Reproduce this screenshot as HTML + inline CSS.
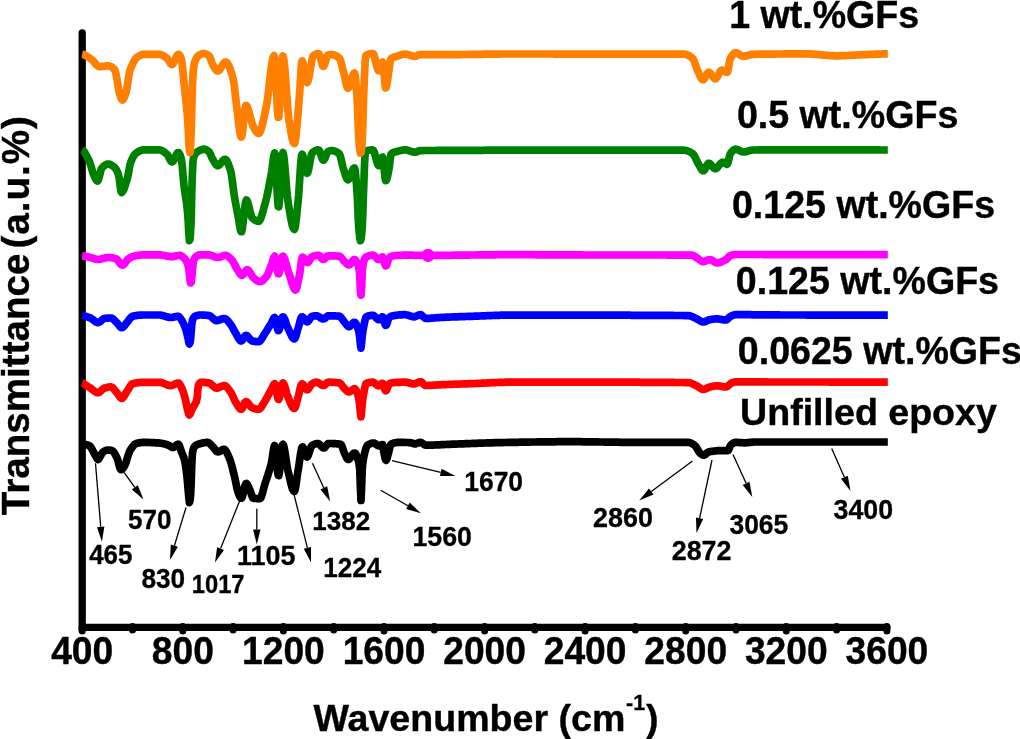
<!DOCTYPE html>
<html lang="en"><head><meta charset="utf-8"><title>FTIR spectra</title>
<style>html,body{margin:0;padding:0;background:#fff;}body{width:1020px;height:739px;overflow:hidden;font-family:'Liberation Sans', sans-serif;}svg text{fill:#000;}</style>
</head><body>
<svg width="1020" height="739" viewBox="0 0 1020 739" style="display:block">
<rect width="1020" height="739" fill="#fff"/>
<path d="M82.2,33 L82.2,627.3 L886.9,627.3" fill="none" stroke="#000" stroke-width="7.3" stroke-linecap="round" stroke-linejoin="miter"/>
<line x1="82.2" y1="626.6" x2="82.2" y2="631.0" stroke="#000" stroke-width="7" stroke-linecap="round"/>
<line x1="132.5" y1="626.6" x2="132.5" y2="630.0" stroke="#000" stroke-width="7" stroke-linecap="round"/>
<line x1="182.8" y1="626.6" x2="182.8" y2="631.0" stroke="#000" stroke-width="7" stroke-linecap="round"/>
<line x1="233.1" y1="626.6" x2="233.1" y2="630.0" stroke="#000" stroke-width="7" stroke-linecap="round"/>
<line x1="283.4" y1="626.6" x2="283.4" y2="631.0" stroke="#000" stroke-width="7" stroke-linecap="round"/>
<line x1="333.7" y1="626.6" x2="333.7" y2="630.0" stroke="#000" stroke-width="7" stroke-linecap="round"/>
<line x1="384.0" y1="626.6" x2="384.0" y2="631.0" stroke="#000" stroke-width="7" stroke-linecap="round"/>
<line x1="434.3" y1="626.6" x2="434.3" y2="630.0" stroke="#000" stroke-width="7" stroke-linecap="round"/>
<line x1="484.6" y1="626.6" x2="484.6" y2="631.0" stroke="#000" stroke-width="7" stroke-linecap="round"/>
<line x1="534.8" y1="626.6" x2="534.8" y2="630.0" stroke="#000" stroke-width="7" stroke-linecap="round"/>
<line x1="585.1" y1="626.6" x2="585.1" y2="631.0" stroke="#000" stroke-width="7" stroke-linecap="round"/>
<line x1="635.4" y1="626.6" x2="635.4" y2="630.0" stroke="#000" stroke-width="7" stroke-linecap="round"/>
<line x1="685.7" y1="626.6" x2="685.7" y2="631.0" stroke="#000" stroke-width="7" stroke-linecap="round"/>
<line x1="736.0" y1="626.6" x2="736.0" y2="630.0" stroke="#000" stroke-width="7" stroke-linecap="round"/>
<line x1="786.3" y1="626.6" x2="786.3" y2="631.0" stroke="#000" stroke-width="7" stroke-linecap="round"/>
<line x1="836.6" y1="626.6" x2="836.6" y2="630.0" stroke="#000" stroke-width="7" stroke-linecap="round"/>
<line x1="886.9" y1="626.6" x2="886.9" y2="631.0" stroke="#000" stroke-width="7" stroke-linecap="round"/>
<path d="M82.1,149.8 L83.2,150.4 L83.8,151.1 L84.4,152.0 L85.0,152.9 L85.6,153.9 L86.2,155.0 L86.8,156.1 L87.4,157.3 L88.0,158.5 L88.6,159.7 L89.2,161.0 L89.8,162.6 L90.4,164.4 L91.0,166.4 L91.6,168.4 L92.2,170.5 L92.8,172.4 L93.4,174.1 L94.0,175.6 L94.6,176.8 L95.2,178.1 L95.8,179.2 L96.4,180.2 L97.0,180.8 L97.6,181.0 L98.2,180.2 L98.8,178.6 L99.4,176.3 L100.0,173.8 L100.6,171.4 L101.2,169.4 L101.8,168.1 L102.4,167.5 L103.0,166.9 L103.6,166.3 L104.2,165.8 L104.8,165.4 L105.4,165.0 L106.0,164.6 L106.6,164.4 L107.2,164.2 L107.8,164.0 L108.4,164.0 L109.0,164.1 L109.6,164.2 L110.2,164.4 L110.8,164.7 L111.4,165.1 L112.0,165.4 L112.6,165.9 L113.2,166.3 L113.8,166.7 L114.4,167.3 L115.0,167.9 L115.6,168.6 L116.2,169.5 L116.8,170.5 L117.4,171.8 L118.0,173.3 L118.6,175.3 L119.2,178.2 L119.8,183.2 L120.4,187.6 L121.0,191.4 L121.6,192.5 L122.2,192.0 L122.8,191.2 L123.4,190.2 L124.0,189.0 L124.6,187.4 L125.2,185.6 L125.8,183.6 L126.4,181.7 L127.0,179.6 L127.6,177.3 L128.2,174.7 L128.8,171.5 L129.4,168.0 L130.0,164.9 L130.6,162.7 L131.2,161.2 L131.8,159.7 L132.4,158.4 L133.0,157.2 L133.6,156.2 L134.2,155.2 L134.8,154.4 L135.4,153.8 L136.0,153.2 L136.6,152.8 L137.2,152.4 L137.8,152.0 L138.4,151.7 L139.0,151.3 L139.6,151.0 L140.2,150.8 L140.8,150.5 L141.4,150.3 L142.0,150.1 L142.6,150.0 L143.2,149.9 L143.8,149.9 L144.4,149.9 L145.0,149.9 L145.6,149.9 L146.2,149.9 L146.8,149.9 L147.4,149.9 L148.0,149.9 L148.6,149.9 L149.2,149.9 L149.8,149.9 L150.4,149.9 L151.0,149.9 L151.6,149.9 L152.2,149.9 L152.8,149.9 L153.4,149.9 L154.0,149.9 L154.6,149.9 L155.2,149.9 L155.8,149.9 L156.4,149.9 L157.0,149.9 L157.6,149.9 L158.2,149.9 L158.8,149.9 L159.4,149.9 L160.0,150.0 L160.6,150.1 L161.2,150.3 L161.8,150.6 L162.4,150.9 L163.0,151.2 L163.6,151.6 L164.2,152.0 L164.8,152.5 L165.4,153.0 L166.0,153.4 L166.6,153.9 L167.2,154.5 L167.8,155.3 L168.4,156.4 L169.0,157.7 L169.6,158.9 L170.2,160.0 L170.8,161.0 L171.4,161.7 L172.0,161.9 L172.6,161.7 L173.2,161.0 L173.8,160.0 L174.4,158.8 L175.0,157.5 L175.6,156.1 L176.2,154.9 L176.8,153.8 L177.4,152.9 L178.0,152.5 L178.6,152.5 L179.2,153.1 L179.8,154.3 L180.4,155.9 L181.0,157.9 L181.6,160.4 L182.2,165.5 L182.8,172.4 L183.4,179.6 L184.0,185.4 L184.6,190.1 L185.2,194.2 L185.8,198.1 L186.4,202.3 L187.0,207.1 L187.6,212.8 L188.2,221.0 L188.8,233.1 L189.4,240.6 L190.0,239.2 L190.6,231.9 L191.2,219.0 L191.8,192.0 L192.4,172.6 L193.0,161.0 L193.6,157.7 L194.2,155.9 L194.8,154.6 L195.4,153.7 L196.0,153.0 L196.6,152.4 L197.2,151.9 L197.8,151.5 L198.4,151.1 L199.0,150.8 L199.6,150.6 L200.2,150.3 L200.8,150.0 L201.4,149.7 L202.0,149.5 L202.6,149.3 L203.2,149.1 L203.8,149.1 L204.4,149.1 L205.0,149.3 L205.6,149.5 L206.2,149.8 L206.8,150.1 L207.4,150.5 L208.0,151.0 L208.6,151.5 L209.2,152.0 L209.8,153.0 L210.4,154.2 L211.0,155.6 L211.6,157.1 L212.2,158.4 L212.8,159.5 L213.4,160.4 L214.0,161.5 L214.6,162.5 L215.2,163.4 L215.8,164.3 L216.4,165.0 L217.0,165.4 L217.6,165.7 L218.2,165.6 L218.8,165.4 L219.4,164.9 L220.0,164.3 L220.6,163.5 L221.2,162.8 L221.8,162.0 L222.4,161.2 L223.0,160.5 L223.6,159.9 L224.2,159.5 L224.8,159.3 L225.4,159.4 L226.0,159.8 L226.6,160.5 L227.2,161.5 L227.8,162.8 L228.4,164.2 L229.0,165.9 L229.6,167.6 L230.2,169.5 L230.8,171.5 L231.4,174.5 L232.0,178.5 L232.6,183.0 L233.2,187.8 L233.8,192.3 L234.4,196.3 L235.0,199.8 L235.6,203.1 L236.2,206.4 L236.8,209.5 L237.4,212.6 L238.0,215.7 L238.6,219.0 L239.2,222.8 L239.8,226.6 L240.4,229.8 L241.0,231.7 L241.6,231.7 L242.2,229.4 L242.8,225.3 L243.4,220.2 L244.0,214.6 L244.6,209.1 L245.2,204.5 L245.8,201.2 L246.4,200.0 L247.0,200.5 L247.6,201.8 L248.2,203.7 L248.8,206.0 L249.4,208.6 L250.0,211.2 L250.6,213.6 L251.2,215.7 L251.8,217.3 L252.4,218.1 L253.0,218.6 L253.6,219.1 L254.2,219.6 L254.8,220.0 L255.4,220.3 L256.0,220.6 L256.6,220.9 L257.2,221.1 L257.8,221.2 L258.4,221.3 L259.0,221.2 L259.6,220.6 L260.2,219.6 L260.8,218.3 L261.4,216.6 L262.0,214.8 L262.6,212.7 L263.2,210.6 L263.8,208.3 L264.4,206.1 L265.0,204.0 L265.6,201.8 L266.2,199.4 L266.8,196.9 L267.4,194.1 L268.0,191.2 L268.6,188.2 L269.2,185.1 L269.8,182.0 L270.4,178.7 L271.0,175.5 L271.6,172.1 L272.2,167.8 L272.8,162.9 L273.4,158.3 L274.0,154.7 L274.6,153.0 L275.2,155.6 L275.8,164.1 L276.4,176.0 L277.0,188.9 L277.6,199.9 L278.2,206.7 L278.8,206.9 L279.4,201.4 L280.0,192.2 L280.6,181.0 L281.2,169.7 L281.8,160.0 L282.4,153.7 L283.0,152.6 L283.6,154.9 L284.2,159.5 L284.8,165.7 L285.4,172.9 L286.0,180.6 L286.6,188.1 L287.2,194.8 L287.8,200.1 L288.4,203.9 L289.0,207.6 L289.6,211.3 L290.2,215.0 L290.8,218.4 L291.4,221.5 L292.0,224.2 L292.6,226.4 L293.2,228.1 L293.8,229.1 L294.4,229.4 L295.0,227.9 L295.6,224.5 L296.2,219.7 L296.8,214.1 L297.4,208.2 L298.0,202.3 L298.6,195.8 L299.2,187.1 L299.8,177.4 L300.4,168.0 L301.0,160.2 L301.6,155.3 L302.2,154.3 L302.8,155.5 L303.4,157.7 L304.0,160.7 L304.6,164.0 L305.2,167.3 L305.8,170.2 L306.4,172.3 L307.0,173.3 L307.6,172.8 L308.2,171.0 L308.8,168.4 L309.4,165.2 L310.0,161.7 L310.6,158.4 L311.2,155.6 L311.8,153.7 L312.4,152.8 L313.0,152.3 L313.6,151.8 L314.2,151.4 L314.8,151.0 L315.4,150.7 L316.0,150.4 L316.6,150.2 L317.2,150.0 L317.8,149.9 L318.4,149.9 L319.0,150.2 L319.6,151.2 L320.2,152.8 L320.8,154.6 L321.4,156.5 L322.0,158.2 L322.6,159.6 L323.2,160.2 L323.8,160.1 L324.4,159.3 L325.0,158.0 L325.6,156.5 L326.2,154.9 L326.8,153.4 L327.4,152.2 L328.0,151.6 L328.6,151.3 L329.2,151.1 L329.8,150.9 L330.4,150.7 L331.0,150.6 L331.6,150.6 L332.2,150.6 L332.8,150.7 L333.4,150.8 L334.0,150.9 L334.6,151.1 L335.2,151.3 L335.8,151.6 L336.4,151.9 L337.0,152.2 L337.6,152.6 L338.2,153.0 L338.8,153.5 L339.4,154.0 L340.0,155.3 L340.6,157.2 L341.2,159.6 L341.8,162.3 L342.4,164.9 L343.0,167.3 L343.6,169.3 L344.2,171.2 L344.8,173.1 L345.4,175.1 L346.0,176.8 L346.6,178.3 L347.2,179.3 L347.8,179.8 L348.4,179.6 L349.0,178.9 L349.6,177.8 L350.2,176.4 L350.8,174.8 L351.4,173.2 L352.0,171.6 L352.6,170.1 L353.2,169.0 L353.8,168.2 L354.4,167.9 L355.0,169.7 L355.6,174.5 L356.2,181.2 L356.8,188.7 L357.4,198.8 L358.0,213.0 L358.6,225.3 L359.2,232.3 L359.8,237.9 L360.4,240.7 L361.0,239.4 L361.6,234.7 L362.2,228.0 L362.8,214.2 L363.4,195.3 L364.0,179.4 L364.6,163.0 L365.2,152.5 L365.8,151.4 L366.4,151.1 L367.0,150.8 L367.6,150.6 L368.2,150.4 L368.8,150.3 L369.4,150.2 L370.0,150.1 L370.6,150.0 L371.2,150.0 L371.8,149.9 L372.4,149.9 L373.0,150.0 L373.6,150.7 L374.2,152.1 L374.8,154.0 L375.4,156.2 L376.0,158.6 L376.6,160.9 L377.2,162.9 L377.8,164.5 L378.4,165.5 L379.0,165.6 L379.6,164.7 L380.2,162.9 L380.8,160.8 L381.4,158.8 L382.0,157.4 L382.6,157.1 L383.2,159.8 L383.8,165.2 L384.4,171.6 L385.0,177.4 L385.6,180.6 L386.2,180.6 L386.8,179.2 L387.4,176.9 L388.0,174.1 L388.6,171.0 L389.2,167.8 L389.8,163.0 L390.4,157.7 L391.0,154.2 L391.6,153.5 L392.2,153.1 L392.8,152.7 L393.4,152.5 L394.0,152.3 L394.6,152.1 L395.2,151.9 L395.8,151.8 L396.4,151.7 L397.0,151.5 L397.6,151.3 L398.2,151.2 L398.8,151.0 L399.4,150.8 L400.0,150.7 L400.6,150.5 L401.2,150.4 L401.8,150.3 L402.4,150.2 L403.0,150.1 L403.6,150.0 L404.2,149.9 L404.8,149.9 L405.4,149.9 L406.0,149.9 L406.6,150.0 L407.2,150.1 L407.8,150.3 L408.4,150.5 L409.0,150.7 L409.6,150.9 L410.2,151.1 L410.8,151.3 L411.4,151.5 L412.0,151.7 L412.6,151.9 L413.2,152.0 L413.8,152.1 L414.4,152.2 L415.0,152.2 L415.6,152.1 L416.2,152.0 L416.8,151.8 L417.4,151.5 L418.0,151.3 L418.6,151.0 L419.2,150.8 L419.8,150.7 L420.4,150.6 L421.0,150.6 L421.6,150.6 L422.2,150.6 L422.8,150.6 L423.4,150.6 L424.0,150.5 L424.6,150.5 L425.2,150.5 L425.8,150.5 L426.4,150.5 L427.0,150.5 L427.6,150.5 L428.2,150.5 L428.8,150.5 L429.4,150.5 L430.0,150.5 L430.6,150.5 L431.2,150.5 L431.8,150.5 L432.4,150.5 L433.0,150.5 L433.6,150.5 L434.2,150.5 L434.8,150.5 L435.4,150.5 L436.0,150.5 L436.6,150.4 L437.2,150.4 L437.8,150.4 L438.4,150.4 L439.0,150.4 L439.6,150.4 L440.2,150.4 L440.8,150.4 L441.4,150.4 L442.0,150.4 L442.6,150.4 L443.2,150.4 L443.8,150.4 L444.4,150.4 L445.0,150.4 L445.6,150.4 L446.2,150.4 L446.8,150.4 L447.4,150.4 L448.0,150.4 L448.6,150.4 L449.2,150.4 L449.8,150.4 L450.4,150.4 L451.0,150.4 L451.6,150.4 L452.2,150.4 L452.8,150.4 L453.4,150.4 L454.0,150.4 L454.6,150.4 L455.2,150.4 L455.8,150.4 L456.4,150.4 L457.0,150.4 L457.6,150.4 L458.2,150.4 L458.8,150.4 L459.4,150.4 L460.0,150.4 L460.6,150.4 L461.2,150.3 L461.8,150.3 L462.4,150.3 L463.0,150.3 L463.6,150.3 L464.2,150.3 L464.8,150.3 L465.4,150.3 L466.0,150.3 L466.6,150.3 L467.2,150.3 L467.8,150.3 L468.4,150.3 L469.0,150.3 L469.6,150.3 L470.2,150.3 L470.8,150.3 L471.4,150.3 L472.0,150.3 L472.6,150.3 L473.2,150.3 L473.8,150.3 L474.4,150.3 L475.0,150.3 L475.6,150.3 L476.2,150.3 L476.8,150.3 L477.4,150.3 L478.0,150.3 L478.6,150.3 L479.2,150.3 L479.8,150.3 L480.4,150.3 L481.0,150.3 L481.6,150.3 L482.2,150.3 L482.8,150.3 L483.4,150.3 L484.0,150.3 L484.6,150.2 L485.2,150.2 L485.8,150.2 L486.4,150.2 L487.0,150.2 L487.6,150.2 L488.2,150.2 L488.8,150.2 L489.4,150.2 L490.0,150.2 L490.6,150.2 L491.2,150.2 L491.8,150.2 L492.4,150.2 L493.0,150.2 L493.6,150.2 L494.2,150.2 L494.8,150.2 L495.4,150.2 L496.0,150.2 L496.6,150.2 L497.2,150.2 L497.8,150.2 L498.4,150.2 L499.0,150.2 L499.6,150.2 L500.2,150.2 L500.8,150.2 L501.4,150.2 L502.0,150.2 L502.6,150.2 L503.2,150.2 L503.8,150.2 L504.4,150.2 L505.0,150.2 L505.6,150.2 L506.2,150.2 L506.8,150.2 L507.4,150.2 L508.0,150.2 L508.6,150.2 L509.2,150.2 L509.8,150.2 L510.4,150.2 L511.0,150.2 L511.6,150.2 L512.2,150.2 L512.8,150.2 L513.4,150.2 L514.0,150.2 L514.6,150.2 L515.2,150.2 L515.8,150.2 L516.4,150.2 L517.0,150.2 L517.6,150.2 L518.2,150.2 L518.8,150.2 L519.4,150.2 L520.0,150.2 L520.6,150.2 L521.2,150.2 L521.8,150.2 L522.4,150.2 L523.0,150.2 L523.6,150.2 L524.2,150.2 L524.8,150.2 L525.4,150.2 L526.0,150.2 L526.6,150.2 L527.2,150.2 L527.8,150.2 L528.4,150.2 L529.0,150.2 L529.6,150.2 L530.2,150.2 L530.8,150.2 L531.4,150.2 L532.0,150.2 L532.6,150.2 L533.2,150.2 L533.8,150.2 L534.4,150.2 L535.0,150.2 L535.6,150.2 L536.2,150.2 L536.8,150.2 L537.4,150.2 L538.0,150.2 L538.6,150.2 L539.2,150.2 L539.8,150.2 L540.4,150.2 L541.0,150.2 L541.6,150.2 L542.2,150.2 L542.8,150.2 L543.4,150.2 L544.0,150.2 L544.6,150.2 L545.2,150.2 L545.8,150.2 L546.4,150.2 L547.0,150.2 L547.6,150.2 L548.2,150.2 L548.8,150.2 L549.4,150.2 L550.0,150.2 L550.6,150.2 L551.2,150.2 L551.8,150.2 L552.4,150.2 L553.0,150.2 L553.6,150.2 L554.2,150.2 L554.8,150.2 L555.4,150.2 L556.0,150.2 L556.6,150.2 L557.2,150.2 L557.8,150.2 L558.4,150.2 L559.0,150.2 L559.6,150.2 L560.2,150.2 L560.8,150.2 L561.4,150.2 L562.0,150.2 L562.6,150.2 L563.2,150.2 L563.8,150.2 L564.4,150.2 L565.0,150.2 L565.6,150.2 L566.2,150.2 L566.8,150.2 L567.4,150.2 L568.0,150.2 L568.6,150.2 L569.2,150.2 L569.8,150.2 L570.4,150.2 L571.0,150.2 L571.6,150.2 L572.2,150.2 L572.8,150.2 L573.4,150.2 L574.0,150.2 L574.6,150.2 L575.2,150.2 L575.8,150.2 L576.4,150.2 L577.0,150.2 L577.6,150.2 L578.2,150.2 L578.8,150.2 L579.4,150.2 L580.0,150.2 L580.6,150.2 L581.2,150.2 L581.8,150.2 L582.4,150.2 L583.0,150.2 L583.6,150.2 L584.2,150.2 L584.8,150.2 L585.4,150.2 L586.0,150.2 L586.6,150.2 L587.2,150.2 L587.8,150.2 L588.4,150.2 L589.0,150.2 L589.6,150.2 L590.2,150.2 L590.8,150.2 L591.4,150.2 L592.0,150.2 L592.6,150.2 L593.2,150.2 L593.8,150.2 L594.4,150.2 L595.0,150.2 L595.6,150.2 L596.2,150.2 L596.8,150.2 L597.4,150.2 L598.0,150.2 L598.6,150.2 L599.2,150.2 L599.8,150.2 L600.4,150.2 L601.0,150.2 L601.6,150.2 L602.2,150.2 L602.8,150.2 L603.4,150.2 L604.0,150.2 L604.6,150.2 L605.2,150.2 L605.8,150.2 L606.4,150.2 L607.0,150.2 L607.6,150.2 L608.2,150.2 L608.8,150.2 L609.4,150.2 L610.0,150.2 L610.6,150.2 L611.2,150.2 L611.8,150.2 L612.4,150.2 L613.0,150.2 L613.6,150.2 L614.2,150.2 L614.8,150.2 L615.4,150.2 L616.0,150.2 L616.6,150.2 L617.2,150.2 L617.8,150.2 L618.4,150.2 L619.0,150.2 L619.6,150.2 L620.2,150.2 L620.8,150.2 L621.4,150.2 L622.0,150.2 L622.6,150.2 L623.2,150.2 L623.8,150.2 L624.4,150.2 L625.0,150.2 L625.6,150.2 L626.2,150.2 L626.8,150.2 L627.4,150.2 L628.0,150.2 L628.6,150.2 L629.2,150.2 L629.8,150.2 L630.4,150.2 L631.0,150.2 L631.6,150.2 L632.2,150.2 L632.8,150.2 L633.4,150.2 L634.0,150.2 L634.6,150.2 L635.2,150.2 L635.8,150.2 L636.4,150.2 L637.0,150.2 L637.6,150.2 L638.2,150.2 L638.8,150.2 L639.4,150.2 L640.0,150.2 L640.6,150.2 L641.2,150.2 L641.8,150.2 L642.4,150.2 L643.0,150.2 L643.6,150.2 L644.2,150.2 L644.8,150.2 L645.4,150.2 L646.0,150.2 L646.6,150.2 L647.2,150.2 L647.8,150.2 L648.4,150.2 L649.0,150.2 L649.6,150.2 L650.2,150.2 L650.8,150.2 L651.4,150.2 L652.0,150.2 L652.6,150.2 L653.2,150.2 L653.8,150.2 L654.4,150.2 L655.0,150.2 L655.6,150.2 L656.2,150.2 L656.8,150.2 L657.4,150.2 L658.0,150.2 L658.6,150.2 L659.2,150.2 L659.8,150.2 L660.4,150.2 L661.0,150.2 L661.6,150.2 L662.2,150.2 L662.8,150.2 L663.4,150.2 L664.0,150.2 L664.6,150.2 L665.2,150.2 L665.8,150.2 L666.4,150.2 L667.0,150.2 L667.6,150.2 L668.2,150.2 L668.8,150.2 L669.4,150.2 L670.0,150.2 L670.6,150.2 L671.2,150.2 L671.8,150.2 L672.4,150.2 L673.0,150.2 L673.6,150.2 L674.2,150.2 L674.8,150.2 L675.4,150.2 L676.0,150.2 L676.6,150.2 L677.2,150.2 L677.8,150.2 L678.4,150.2 L679.0,150.2 L679.6,150.2 L680.2,150.2 L680.8,150.2 L681.4,150.2 L682.0,150.2 L682.6,150.2 L683.2,150.2 L683.8,150.2 L684.4,150.2 L685.0,150.3 L685.6,150.4 L686.2,150.5 L686.8,150.7 L687.4,150.9 L688.0,151.1 L688.6,151.3 L689.2,151.6 L689.8,151.9 L690.4,152.2 L691.0,152.6 L691.6,152.9 L692.2,153.3 L692.8,153.7 L693.4,154.4 L694.0,155.3 L694.6,156.3 L695.2,157.5 L695.8,158.7 L696.4,160.0 L697.0,161.3 L697.6,162.5 L698.2,163.6 L698.8,164.6 L699.4,165.7 L700.0,166.8 L700.6,167.8 L701.2,168.9 L701.8,169.7 L702.4,170.4 L703.0,170.8 L703.6,170.7 L704.2,170.3 L704.8,169.4 L705.4,168.4 L706.0,167.2 L706.6,165.9 L707.2,164.8 L707.8,164.0 L708.4,163.4 L709.0,163.3 L709.6,163.5 L710.2,163.9 L710.8,164.5 L711.4,165.2 L712.0,165.9 L712.6,166.7 L713.2,167.4 L713.8,168.0 L714.4,168.4 L715.0,168.7 L715.6,168.7 L716.2,168.4 L716.8,168.0 L717.4,167.5 L718.0,166.8 L718.6,166.0 L719.2,165.3 L719.8,164.5 L720.4,163.8 L721.0,163.1 L721.6,162.6 L722.2,162.3 L722.8,162.2 L723.4,162.3 L724.0,162.6 L724.6,163.0 L725.2,163.4 L725.8,163.8 L726.4,164.1 L727.0,164.3 L727.6,163.9 L728.2,162.1 L728.8,159.4 L729.4,156.6 L730.0,154.4 L730.6,153.2 L731.2,152.5 L731.8,151.7 L732.4,151.1 L733.0,150.5 L733.6,150.0 L734.2,149.7 L734.8,149.4 L735.4,149.2 L736.0,149.2 L736.6,149.3 L737.2,149.5 L737.8,149.7 L738.4,150.0 L739.0,150.3 L739.6,150.6 L740.2,150.9 L740.8,151.2 L741.4,151.5 L742.0,151.7 L742.6,151.9 L743.2,152.0 L743.8,152.0 L744.4,151.9 L745.0,151.9 L745.6,151.7 L746.2,151.6 L746.8,151.5 L747.4,151.3 L748.0,151.1 L748.6,150.9 L749.2,150.7 L749.8,150.6 L750.4,150.4 L751.0,150.3 L751.6,150.2 L752.2,150.1 L752.8,150.0 L753.4,150.0 L754.0,150.0 L754.6,150.0 L755.2,150.0 L755.8,150.0 L756.4,150.0 L757.0,150.0 L757.6,149.9 L758.2,149.9 L758.8,149.9 L759.4,149.9 L760.0,149.9 L760.6,149.9 L761.2,149.9 L761.8,149.9 L762.4,149.9 L763.0,149.9 L763.6,149.9 L764.2,149.9 L764.8,149.9 L765.4,149.9 L766.0,149.9 L766.6,149.9 L767.2,149.9 L767.8,149.9 L768.4,149.9 L769.0,149.9 L769.6,149.9 L770.2,149.8 L770.8,149.8 L771.4,149.8 L772.0,149.8 L772.6,149.8 L773.2,149.8 L773.8,149.8 L774.4,149.8 L775.0,149.8 L775.6,149.8 L776.2,149.8 L776.8,149.8 L777.4,149.8 L778.0,149.8 L778.6,149.8 L779.2,149.8 L779.8,149.8 L780.4,149.8 L781.0,149.8 L781.6,149.8 L782.2,149.8 L782.8,149.8 L783.4,149.8 L784.0,149.8 L784.6,149.8 L785.2,149.8 L785.8,149.8 L786.4,149.8 L787.0,149.8 L787.6,149.8 L788.2,149.8 L788.8,149.8 L789.4,149.8 L790.0,149.8 L790.6,149.8 L791.2,149.8 L791.8,149.8 L792.4,149.8 L793.0,149.8 L793.6,149.8 L794.2,149.8 L794.8,149.8 L795.4,149.8 L796.0,149.8 L796.6,149.8 L797.2,149.8 L797.8,149.8 L798.4,149.8 L799.0,149.8 L799.6,149.8 L800.2,149.8 L800.8,149.8 L801.4,149.8 L802.0,149.8 L802.6,149.8 L803.2,149.8 L803.8,149.8 L804.4,149.8 L805.0,149.8 L805.6,149.8 L806.2,149.8 L806.8,149.8 L807.4,149.8 L808.0,149.8 L808.6,149.8 L809.2,149.8 L809.8,149.8 L810.4,149.8 L811.0,149.8 L811.6,149.8 L812.2,149.8 L812.8,149.8 L813.4,149.8 L814.0,149.8 L814.6,149.8 L815.2,149.8 L815.8,149.8 L816.4,149.8 L817.0,149.8 L817.6,149.8 L818.2,149.8 L818.8,149.8 L819.4,149.8 L820.0,149.8 L820.6,149.8 L821.2,149.8 L821.8,149.8 L822.4,149.8 L823.0,149.8 L823.6,149.8 L824.2,149.8 L824.8,149.8 L825.4,149.8 L826.0,149.8 L826.6,149.8 L827.2,149.8 L827.8,149.8 L828.4,149.8 L829.0,149.8 L829.6,149.8 L830.2,149.8 L830.8,149.8 L831.4,149.8 L832.0,149.8 L832.6,149.8 L833.2,149.8 L833.8,149.8 L834.4,149.8 L835.0,149.8 L835.6,149.8 L836.2,149.8 L836.8,149.8 L837.4,149.8 L838.0,149.8 L838.6,149.8 L839.2,149.8 L839.8,149.8 L840.4,149.8 L841.0,149.8 L841.6,149.8 L842.2,149.8 L842.8,149.8 L843.4,149.8 L844.0,149.8 L844.6,149.8 L845.2,149.8 L845.8,149.8 L846.4,149.8 L847.0,149.8 L847.6,149.8 L848.2,149.8 L848.8,149.8 L849.4,149.8 L850.0,149.8 L850.6,149.8 L851.2,149.8 L851.8,149.9 L852.4,149.9 L853.0,149.9 L853.6,149.9 L854.2,149.9 L854.8,149.9 L855.4,149.9 L856.0,149.9 L856.6,149.9 L857.2,149.9 L857.8,149.9 L858.4,149.9 L859.0,149.9 L859.6,149.9 L860.2,149.9 L860.8,149.9 L861.4,149.9 L862.0,149.9 L862.6,149.9 L863.2,149.9 L863.8,149.9 L864.4,149.9 L865.0,149.9 L865.6,149.9 L866.2,149.9 L866.8,149.9 L867.4,149.9 L868.0,149.9 L868.6,149.9 L869.2,149.9 L869.8,149.9 L870.4,149.9 L871.0,149.9 L871.6,149.9 L872.2,149.9 L872.8,149.9 L873.4,149.9 L874.0,149.9 L874.6,149.9 L875.2,149.9 L875.8,149.9 L876.4,149.9 L877.0,149.9 L877.6,149.9 L878.2,149.9 L878.8,149.9 L879.4,150.0 L880.0,150.0 L880.6,150.0 L881.2,150.0 L881.8,150.0 L882.4,150.0 L883.0,150.0 L883.6,150.0 L884.2,150.0 L884.8,150.0 L885.4,150.0 L886.0,150.0 L886.6,150.0 L887.2,150.0 L887.8,150.0" fill="none" stroke="#008000" stroke-width="7.7" stroke-linejoin="round" stroke-linecap="butt"/>
<path d="M82.1,54.2 L83.2,54.4 L83.8,54.7 L84.4,54.9 L85.0,55.3 L85.6,55.6 L86.2,55.9 L86.8,56.3 L87.4,56.6 L88.0,57.0 L88.6,57.4 L89.2,57.8 L89.8,58.2 L90.4,58.6 L91.0,59.0 L91.6,59.4 L92.2,59.9 L92.8,60.5 L93.4,61.1 L94.0,61.9 L94.6,62.6 L95.2,63.4 L95.8,64.1 L96.4,64.8 L97.0,65.4 L97.6,65.9 L98.2,66.3 L98.8,66.5 L99.4,66.6 L100.0,66.6 L100.6,66.6 L101.2,66.5 L101.8,66.5 L102.4,66.4 L103.0,66.3 L103.6,66.3 L104.2,66.2 L104.8,66.1 L105.4,66.1 L106.0,66.0 L106.6,66.0 L107.2,65.9 L107.8,65.9 L108.4,65.9 L109.0,66.0 L109.6,66.1 L110.2,66.3 L110.8,66.6 L111.4,66.9 L112.0,67.3 L112.6,67.8 L113.2,68.3 L113.8,68.9 L114.4,69.5 L115.0,70.4 L115.6,72.4 L116.2,75.1 L116.8,78.5 L117.4,82.1 L118.0,85.7 L118.6,89.2 L119.2,92.1 L119.8,94.2 L120.4,96.1 L121.0,97.9 L121.6,99.3 L122.2,100.0 L122.8,99.8 L123.4,99.1 L124.0,97.9 L124.6,96.5 L125.2,95.0 L125.8,93.3 L126.4,90.8 L127.0,87.5 L127.6,83.8 L128.2,79.9 L128.8,76.1 L129.4,72.8 L130.0,70.3 L130.6,68.6 L131.2,67.1 L131.8,65.7 L132.4,64.3 L133.0,63.1 L133.6,61.9 L134.2,60.9 L134.8,59.9 L135.4,59.1 L136.0,58.3 L136.6,57.7 L137.2,57.2 L137.8,56.8 L138.4,56.4 L139.0,56.1 L139.6,55.7 L140.2,55.4 L140.8,55.1 L141.4,54.9 L142.0,54.7 L142.6,54.5 L143.2,54.4 L143.8,54.4 L144.4,54.4 L145.0,54.4 L145.6,54.4 L146.2,54.4 L146.8,54.4 L147.4,54.4 L148.0,54.4 L148.6,54.4 L149.2,54.4 L149.8,54.4 L150.4,54.4 L151.0,54.4 L151.6,54.4 L152.2,54.4 L152.8,54.4 L153.4,54.4 L154.0,54.4 L154.6,54.4 L155.2,54.4 L155.8,54.4 L156.4,54.4 L157.0,54.4 L157.6,54.4 L158.2,54.4 L158.8,54.4 L159.4,54.4 L160.0,54.5 L160.6,54.6 L161.2,54.8 L161.8,55.0 L162.4,55.3 L163.0,55.6 L163.6,55.9 L164.2,56.3 L164.8,56.7 L165.4,57.1 L166.0,57.5 L166.6,58.0 L167.2,58.5 L167.8,59.2 L168.4,60.1 L169.0,61.1 L169.6,62.1 L170.2,63.1 L170.8,63.9 L171.4,64.4 L172.0,64.6 L172.6,64.3 L173.2,63.6 L173.8,62.6 L174.4,61.3 L175.0,59.9 L175.6,58.4 L176.2,57.0 L176.8,55.9 L177.4,55.0 L178.0,54.5 L178.6,54.4 L179.2,54.8 L179.8,55.5 L180.4,56.5 L181.0,57.8 L181.6,59.7 L182.2,64.3 L182.8,70.1 L183.4,75.9 L184.0,82.3 L184.6,88.7 L185.2,94.5 L185.8,99.8 L186.4,105.3 L187.0,111.3 L187.6,118.5 L188.2,128.7 L188.8,141.8 L189.4,150.5 L190.0,152.6 L190.6,145.0 L191.2,130.7 L191.8,109.0 L192.4,86.1 L193.0,73.6 L193.6,67.8 L194.2,64.3 L194.8,61.9 L195.4,60.2 L196.0,59.0 L196.6,57.9 L197.2,57.0 L197.8,56.3 L198.4,55.7 L199.0,55.3 L199.6,55.0 L200.2,54.6 L200.8,54.4 L201.4,54.1 L202.0,53.9 L202.6,53.7 L203.2,53.6 L203.8,53.6 L204.4,53.6 L205.0,53.7 L205.6,53.9 L206.2,54.1 L206.8,54.4 L207.4,54.7 L208.0,55.1 L208.6,55.5 L209.2,56.0 L209.8,57.1 L210.4,58.6 L211.0,60.3 L211.6,62.0 L212.2,63.6 L212.8,64.8 L213.4,65.8 L214.0,66.8 L214.6,67.8 L215.2,68.8 L215.8,69.6 L216.4,70.3 L217.0,70.8 L217.6,71.0 L218.2,70.9 L218.8,70.6 L219.4,70.0 L220.0,69.2 L220.6,68.3 L221.2,67.3 L221.8,66.2 L222.4,65.2 L223.0,64.2 L223.6,63.4 L224.2,62.7 L224.8,62.2 L225.4,62.0 L226.0,62.1 L226.6,62.4 L227.2,63.0 L227.8,63.9 L228.4,64.9 L229.0,66.2 L229.6,67.6 L230.2,69.2 L230.8,70.9 L231.4,72.8 L232.0,74.7 L232.6,76.8 L233.2,79.0 L233.8,82.2 L234.4,86.6 L235.0,91.7 L235.6,97.3 L236.2,102.7 L236.8,107.7 L237.4,112.2 L238.0,117.3 L238.6,122.5 L239.2,127.5 L239.8,131.9 L240.4,135.2 L241.0,137.0 L241.6,136.9 L242.2,134.1 L242.8,129.3 L243.4,123.4 L244.0,117.2 L244.6,111.6 L245.2,107.4 L245.8,105.4 L246.4,105.6 L247.0,106.4 L247.6,107.7 L248.2,109.3 L248.8,111.3 L249.4,113.4 L250.0,115.7 L250.6,118.1 L251.2,120.4 L251.8,122.5 L252.4,124.4 L253.0,126.0 L253.6,127.2 L254.2,128.2 L254.8,129.3 L255.4,130.3 L256.0,131.2 L256.6,132.0 L257.2,132.7 L257.8,133.2 L258.4,133.4 L259.0,133.3 L259.6,132.7 L260.2,131.6 L260.8,130.2 L261.4,128.3 L262.0,126.2 L262.6,123.8 L263.2,121.2 L263.8,118.5 L264.4,115.7 L265.0,112.8 L265.6,110.0 L266.2,107.2 L266.8,104.1 L267.4,100.2 L268.0,95.6 L268.6,90.6 L269.2,85.3 L269.8,79.9 L270.4,74.6 L271.0,69.6 L271.6,65.1 L272.2,61.3 L272.8,58.3 L273.4,56.4 L274.0,55.7 L274.6,58.7 L275.2,66.6 L275.8,77.7 L276.4,90.0 L277.0,101.9 L277.6,111.6 L278.2,117.3 L278.8,117.2 L279.4,111.0 L280.0,100.6 L280.6,88.0 L281.2,75.2 L281.8,64.3 L282.4,57.2 L283.0,55.9 L283.6,58.0 L284.2,62.4 L284.8,68.5 L285.4,75.9 L286.0,84.1 L286.6,92.6 L287.2,101.0 L287.8,108.8 L288.4,115.5 L289.0,120.7 L289.6,124.4 L290.2,128.0 L290.8,131.5 L291.4,134.8 L292.0,137.8 L292.6,140.2 L293.2,142.1 L293.8,143.3 L294.4,143.6 L295.0,142.1 L295.6,138.8 L296.2,133.9 L296.8,127.8 L297.4,120.9 L298.0,113.5 L298.6,106.0 L299.2,98.8 L299.8,91.0 L300.4,80.4 L301.0,69.9 L301.6,62.5 L302.2,60.9 L302.8,62.2 L303.4,64.8 L304.0,68.2 L304.6,72.0 L305.2,75.7 L305.8,79.0 L306.4,81.4 L307.0,82.5 L307.6,82.0 L308.2,80.4 L308.8,77.9 L309.4,74.8 L310.0,71.2 L310.6,67.5 L311.2,63.9 L311.8,60.7 L312.4,58.0 L313.0,56.3 L313.6,55.6 L314.2,55.1 L314.8,54.8 L315.4,54.4 L316.0,54.2 L316.6,53.9 L317.2,53.8 L317.8,53.6 L318.4,53.6 L319.0,54.0 L319.6,55.3 L320.2,57.2 L320.8,59.5 L321.4,61.8 L322.0,63.9 L322.6,65.6 L323.2,66.4 L323.8,66.3 L324.4,65.1 L325.0,63.4 L325.6,61.2 L326.2,59.0 L326.8,57.1 L327.4,55.6 L328.0,55.0 L328.6,54.9 L329.2,54.8 L329.8,54.7 L330.4,54.6 L331.0,54.6 L331.6,54.6 L332.2,54.6 L332.8,54.7 L333.4,54.8 L334.0,55.0 L334.6,55.1 L335.2,55.4 L335.8,55.7 L336.4,56.0 L337.0,56.3 L337.6,56.7 L338.2,57.1 L338.8,57.6 L339.4,58.1 L340.0,59.2 L340.6,60.9 L341.2,63.0 L341.8,65.3 L342.4,67.8 L343.0,70.2 L343.6,72.4 L344.2,74.8 L344.8,77.6 L345.4,80.6 L346.0,83.4 L346.6,85.7 L347.2,87.4 L347.8,88.2 L348.4,87.9 L349.0,87.0 L349.6,85.6 L350.2,83.8 L350.8,81.8 L351.4,79.7 L352.0,77.7 L352.6,75.9 L353.2,74.4 L353.8,73.4 L354.4,73.0 L355.0,74.8 L355.6,79.5 L356.2,86.1 L356.8,93.7 L357.4,104.6 L358.0,120.6 L358.6,135.2 L359.2,143.5 L359.8,149.7 L360.4,153.2 L361.0,152.5 L361.6,148.1 L362.2,141.3 L362.8,127.0 L363.4,104.1 L364.0,87.5 L364.6,72.6 L365.2,60.8 L365.8,55.7 L366.4,55.3 L367.0,54.9 L367.6,54.6 L368.2,54.3 L368.8,54.1 L369.4,53.9 L370.0,53.8 L370.6,53.7 L371.2,53.6 L371.8,53.5 L372.4,53.5 L373.0,53.6 L373.6,54.3 L374.2,55.9 L374.8,58.0 L375.4,60.5 L376.0,63.1 L376.6,65.6 L377.2,67.8 L377.8,69.6 L378.4,70.7 L379.0,70.8 L379.6,69.8 L380.2,68.0 L380.8,65.9 L381.4,63.9 L382.0,62.4 L382.6,62.1 L383.2,65.0 L383.8,71.0 L384.4,78.1 L385.0,84.3 L385.6,87.9 L386.2,87.7 L386.8,85.2 L387.4,81.5 L388.0,77.0 L388.6,72.6 L389.2,68.7 L389.8,64.1 L390.4,60.2 L391.0,58.8 L391.6,58.3 L392.2,57.9 L392.8,57.6 L393.4,57.3 L394.0,57.1 L394.6,57.0 L395.2,56.8 L395.8,56.6 L396.4,56.5 L397.0,56.3 L397.6,56.1 L398.2,55.8 L398.8,55.6 L399.4,55.4 L400.0,55.2 L400.6,55.0 L401.2,54.9 L401.8,54.7 L402.4,54.5 L403.0,54.4 L403.6,54.3 L404.2,54.2 L404.8,54.2 L405.4,54.2 L406.0,54.2 L406.6,54.3 L407.2,54.4 L407.8,54.6 L408.4,54.7 L409.0,54.9 L409.6,55.1 L410.2,55.3 L410.8,55.5 L411.4,55.7 L412.0,55.8 L412.6,56.0 L413.2,56.1 L413.8,56.2 L414.4,56.3 L415.0,56.3 L415.6,56.2 L416.2,56.1 L416.8,55.9 L417.4,55.6 L418.0,55.3 L418.6,55.0 L419.2,54.8 L419.8,54.7 L420.4,54.6 L421.0,54.6 L421.6,54.6 L422.2,54.6 L422.8,54.6 L423.4,54.6 L424.0,54.6 L424.6,54.6 L425.2,54.6 L425.8,54.6 L426.4,54.6 L427.0,54.6 L427.6,54.6 L428.2,54.6 L428.8,54.6 L429.4,54.6 L430.0,54.6 L430.6,54.6 L431.2,54.6 L431.8,54.6 L432.4,54.6 L433.0,54.6 L433.6,54.6 L434.2,54.6 L434.8,54.6 L435.4,54.6 L436.0,54.6 L436.6,54.6 L437.2,54.6 L437.8,54.6 L438.4,54.6 L439.0,54.6 L439.6,54.6 L440.2,54.6 L440.8,54.6 L441.4,54.6 L442.0,54.6 L442.6,54.6 L443.2,54.6 L443.8,54.6 L444.4,54.6 L445.0,54.6 L445.6,54.6 L446.2,54.6 L446.8,54.6 L447.4,54.6 L448.0,54.6 L448.6,54.6 L449.2,54.6 L449.8,54.6 L450.4,54.6 L451.0,54.6 L451.6,54.6 L452.2,54.6 L452.8,54.6 L453.4,54.6 L454.0,54.6 L454.6,54.6 L455.2,54.6 L455.8,54.6 L456.4,54.6 L457.0,54.6 L457.6,54.6 L458.2,54.6 L458.8,54.6 L459.4,54.6 L460.0,54.6 L460.6,54.6 L461.2,54.5 L461.8,54.5 L462.4,54.5 L463.0,54.5 L463.6,54.5 L464.2,54.5 L464.8,54.5 L465.4,54.5 L466.0,54.5 L466.6,54.5 L467.2,54.5 L467.8,54.5 L468.4,54.5 L469.0,54.5 L469.6,54.4 L470.2,54.4 L470.8,54.4 L471.4,54.4 L472.0,54.4 L472.6,54.4 L473.2,54.4 L473.8,54.4 L474.4,54.4 L475.0,54.4 L475.6,54.4 L476.2,54.4 L476.8,54.3 L477.4,54.3 L478.0,54.3 L478.6,54.3 L479.2,54.3 L479.8,54.3 L480.4,54.3 L481.0,54.3 L481.6,54.3 L482.2,54.3 L482.8,54.3 L483.4,54.2 L484.0,54.2 L484.6,54.2 L485.2,54.2 L485.8,54.2 L486.4,54.2 L487.0,54.2 L487.6,54.2 L488.2,54.2 L488.8,54.2 L489.4,54.2 L490.0,54.2 L490.6,54.1 L491.2,54.1 L491.8,54.1 L492.4,54.1 L493.0,54.1 L493.6,54.1 L494.2,54.1 L494.8,54.1 L495.4,54.1 L496.0,54.1 L496.6,54.1 L497.2,54.1 L497.8,54.1 L498.4,54.1 L499.0,54.1 L499.6,54.0 L500.2,54.0 L500.8,54.0 L501.4,54.0 L502.0,54.0 L502.6,54.0 L503.2,54.0 L503.8,54.0 L504.4,54.0 L505.0,54.0 L505.6,54.0 L506.2,54.0 L506.8,54.0 L507.4,54.0 L508.0,54.0 L508.6,54.0 L509.2,54.0 L509.8,54.0 L510.4,54.0 L511.0,54.0 L511.6,54.0 L512.2,54.0 L512.8,54.0 L513.4,54.0 L514.0,54.0 L514.6,54.0 L515.2,54.0 L515.8,54.0 L516.4,54.0 L517.0,54.0 L517.6,54.0 L518.2,54.0 L518.8,54.0 L519.4,54.0 L520.0,54.0 L520.6,54.0 L521.2,54.0 L521.8,54.0 L522.4,54.0 L523.0,54.0 L523.6,54.0 L524.2,54.0 L524.8,54.0 L525.4,54.0 L526.0,54.0 L526.6,54.0 L527.2,54.0 L527.8,54.0 L528.4,54.0 L529.0,54.0 L529.6,54.0 L530.2,54.0 L530.8,54.0 L531.4,54.0 L532.0,54.0 L532.6,54.0 L533.2,54.0 L533.8,54.0 L534.4,54.0 L535.0,54.0 L535.6,54.0 L536.2,54.0 L536.8,54.0 L537.4,54.0 L538.0,54.0 L538.6,54.0 L539.2,54.0 L539.8,54.0 L540.4,54.0 L541.0,54.0 L541.6,54.0 L542.2,54.0 L542.8,54.0 L543.4,54.0 L544.0,54.0 L544.6,54.0 L545.2,54.0 L545.8,54.0 L546.4,54.0 L547.0,54.0 L547.6,54.0 L548.2,54.0 L548.8,54.0 L549.4,54.0 L550.0,54.0 L550.6,54.0 L551.2,54.0 L551.8,54.0 L552.4,54.0 L553.0,54.0 L553.6,54.0 L554.2,54.0 L554.8,54.0 L555.4,54.1 L556.0,54.1 L556.6,54.1 L557.2,54.1 L557.8,54.1 L558.4,54.1 L559.0,54.1 L559.6,54.1 L560.2,54.1 L560.8,54.1 L561.4,54.1 L562.0,54.1 L562.6,54.1 L563.2,54.1 L563.8,54.1 L564.4,54.1 L565.0,54.1 L565.6,54.1 L566.2,54.1 L566.8,54.1 L567.4,54.1 L568.0,54.1 L568.6,54.1 L569.2,54.1 L569.8,54.1 L570.4,54.1 L571.0,54.1 L571.6,54.1 L572.2,54.1 L572.8,54.1 L573.4,54.1 L574.0,54.1 L574.6,54.1 L575.2,54.1 L575.8,54.1 L576.4,54.1 L577.0,54.1 L577.6,54.1 L578.2,54.1 L578.8,54.1 L579.4,54.1 L580.0,54.1 L580.6,54.1 L581.2,54.1 L581.8,54.1 L582.4,54.1 L583.0,54.1 L583.6,54.1 L584.2,54.1 L584.8,54.1 L585.4,54.1 L586.0,54.1 L586.6,54.1 L587.2,54.1 L587.8,54.1 L588.4,54.1 L589.0,54.1 L589.6,54.1 L590.2,54.1 L590.8,54.1 L591.4,54.1 L592.0,54.1 L592.6,54.1 L593.2,54.1 L593.8,54.1 L594.4,54.1 L595.0,54.1 L595.6,54.1 L596.2,54.1 L596.8,54.1 L597.4,54.1 L598.0,54.1 L598.6,54.1 L599.2,54.1 L599.8,54.1 L600.4,54.1 L601.0,54.1 L601.6,54.1 L602.2,54.1 L602.8,54.1 L603.4,54.1 L604.0,54.1 L604.6,54.1 L605.2,54.1 L605.8,54.1 L606.4,54.1 L607.0,54.1 L607.6,54.1 L608.2,54.1 L608.8,54.1 L609.4,54.1 L610.0,54.1 L610.6,54.1 L611.2,54.1 L611.8,54.1 L612.4,54.1 L613.0,54.1 L613.6,54.1 L614.2,54.1 L614.8,54.1 L615.4,54.1 L616.0,54.1 L616.6,54.1 L617.2,54.1 L617.8,54.1 L618.4,54.1 L619.0,54.1 L619.6,54.1 L620.2,54.1 L620.8,54.1 L621.4,54.1 L622.0,54.1 L622.6,54.1 L623.2,54.1 L623.8,54.1 L624.4,54.1 L625.0,54.1 L625.6,54.1 L626.2,54.1 L626.8,54.1 L627.4,54.1 L628.0,54.1 L628.6,54.1 L629.2,54.1 L629.8,54.1 L630.4,54.1 L631.0,54.1 L631.6,54.1 L632.2,54.1 L632.8,54.1 L633.4,54.1 L634.0,54.1 L634.6,54.1 L635.2,54.1 L635.8,54.1 L636.4,54.1 L637.0,54.1 L637.6,54.1 L638.2,54.1 L638.8,54.1 L639.4,54.1 L640.0,54.1 L640.6,54.1 L641.2,54.1 L641.8,54.1 L642.4,54.1 L643.0,54.1 L643.6,54.1 L644.2,54.1 L644.8,54.1 L645.4,54.1 L646.0,54.1 L646.6,54.1 L647.2,54.1 L647.8,54.1 L648.4,54.1 L649.0,54.1 L649.6,54.1 L650.2,54.1 L650.8,54.1 L651.4,54.1 L652.0,54.1 L652.6,54.1 L653.2,54.1 L653.8,54.1 L654.4,54.1 L655.0,54.1 L655.6,54.1 L656.2,54.1 L656.8,54.1 L657.4,54.1 L658.0,54.1 L658.6,54.1 L659.2,54.1 L659.8,54.1 L660.4,54.1 L661.0,54.1 L661.6,54.1 L662.2,54.1 L662.8,54.1 L663.4,54.1 L664.0,54.1 L664.6,54.1 L665.2,54.1 L665.8,54.1 L666.4,54.1 L667.0,54.1 L667.6,54.1 L668.2,54.1 L668.8,54.1 L669.4,54.1 L670.0,54.1 L670.6,54.1 L671.2,54.1 L671.8,54.1 L672.4,54.1 L673.0,54.1 L673.6,54.1 L674.2,54.1 L674.8,54.1 L675.4,54.1 L676.0,54.1 L676.6,54.1 L677.2,54.1 L677.8,54.1 L678.4,54.1 L679.0,54.1 L679.6,54.1 L680.2,54.1 L680.8,54.1 L681.4,54.1 L682.0,54.1 L682.6,54.1 L683.2,54.1 L683.8,54.1 L684.4,54.1 L685.0,54.2 L685.6,54.3 L686.2,54.5 L686.8,54.7 L687.4,54.9 L688.0,55.2 L688.6,55.5 L689.2,55.8 L689.8,56.2 L690.4,56.6 L691.0,57.0 L691.6,57.5 L692.2,58.0 L692.8,58.5 L693.4,59.4 L694.0,60.7 L694.6,62.2 L695.2,63.9 L695.8,65.7 L696.4,67.4 L697.0,69.1 L697.6,70.6 L698.2,71.8 L698.8,73.1 L699.4,74.5 L700.0,75.9 L700.6,77.2 L701.2,78.3 L701.8,79.1 L702.4,79.6 L703.0,79.8 L703.6,79.5 L704.2,78.9 L704.8,78.0 L705.4,76.9 L706.0,75.8 L706.6,74.7 L707.2,73.7 L707.8,72.9 L708.4,72.4 L709.0,72.3 L709.6,72.6 L710.2,73.1 L710.8,73.8 L711.4,74.6 L712.0,75.5 L712.6,76.4 L713.2,77.2 L713.8,77.9 L714.4,78.5 L715.0,78.8 L715.6,78.7 L716.2,78.3 L716.8,77.6 L717.4,76.7 L718.0,75.5 L718.6,74.3 L719.2,73.2 L719.8,72.1 L720.4,71.1 L721.0,70.5 L721.6,70.1 L722.2,70.1 L722.8,70.3 L723.4,70.6 L724.0,70.9 L724.6,71.3 L725.2,71.6 L725.8,71.9 L726.4,72.2 L727.0,72.3 L727.6,71.8 L728.2,69.4 L728.8,65.9 L729.4,62.3 L730.0,59.3 L730.6,57.9 L731.2,56.9 L731.8,56.0 L732.4,55.2 L733.0,54.4 L733.6,53.8 L734.2,53.4 L734.8,53.0 L735.4,52.8 L736.0,52.8 L736.6,52.9 L737.2,53.1 L737.8,53.4 L738.4,53.7 L739.0,54.1 L739.6,54.5 L740.2,55.0 L740.8,55.4 L741.4,55.7 L742.0,56.0 L742.6,56.2 L743.2,56.3 L743.8,56.3 L744.4,56.2 L745.0,56.2 L745.6,56.1 L746.2,55.9 L746.8,55.8 L747.4,55.6 L748.0,55.4 L748.6,55.2 L749.2,55.1 L749.8,54.9 L750.4,54.7 L751.0,54.6 L751.6,54.5 L752.2,54.4 L752.8,54.3 L753.4,54.3 L754.0,54.3 L754.6,54.3 L755.2,54.3 L755.8,54.3 L756.4,54.3 L757.0,54.2 L757.6,54.2 L758.2,54.2 L758.8,54.2 L759.4,54.2 L760.0,54.2 L760.6,54.2 L761.2,54.2 L761.8,54.2 L762.4,54.2 L763.0,54.2 L763.6,54.2 L764.2,54.2 L764.8,54.2 L765.4,54.2 L766.0,54.2 L766.6,54.2 L767.2,54.2 L767.8,54.1 L768.4,54.1 L769.0,54.1 L769.6,54.1 L770.2,54.1 L770.8,54.1 L771.4,54.1 L772.0,54.1 L772.6,54.1 L773.2,54.1 L773.8,54.1 L774.4,54.1 L775.0,54.1 L775.6,54.1 L776.2,54.0 L776.8,54.0 L777.4,54.0 L778.0,54.0 L778.6,54.0 L779.2,54.0 L779.8,54.0 L780.4,54.0 L781.0,54.0 L781.6,54.0 L782.2,54.0 L782.8,54.0 L783.4,54.0 L784.0,53.9 L784.6,53.9 L785.2,53.9 L785.8,53.9 L786.4,53.9 L787.0,53.9 L787.6,53.9 L788.2,53.9 L788.8,53.9 L789.4,53.9 L790.0,53.9 L790.6,53.9 L791.2,53.9 L791.8,53.9 L792.4,53.9 L793.0,53.9 L793.6,53.9 L794.2,53.8 L794.8,53.8 L795.4,53.8 L796.0,53.8 L796.6,53.8 L797.2,53.8 L797.8,53.8 L798.4,53.8 L799.0,53.8 L799.6,53.8 L800.2,53.8 L800.8,53.8 L801.4,53.8 L802.0,53.8 L802.6,53.8 L803.2,53.8 L803.8,53.8 L804.4,53.8 L805.0,53.8 L805.6,53.8 L806.2,53.8 L806.8,53.8 L807.4,53.8 L808.0,53.9 L808.6,53.9 L809.2,53.9 L809.8,53.9 L810.4,54.0 L811.0,54.0 L811.6,54.0 L812.2,54.1 L812.8,54.1 L813.4,54.1 L814.0,54.2 L814.6,54.2 L815.2,54.3 L815.8,54.3 L816.4,54.4 L817.0,54.4 L817.6,54.5 L818.2,54.6 L818.8,54.6 L819.4,54.7 L820.0,54.7 L820.6,54.8 L821.2,54.8 L821.8,54.9 L822.4,54.9 L823.0,55.0 L823.6,55.1 L824.2,55.1 L824.8,55.2 L825.4,55.2 L826.0,55.3 L826.6,55.3 L827.2,55.4 L827.8,55.4 L828.4,55.5 L829.0,55.5 L829.6,55.5 L830.2,55.6 L830.8,55.6 L831.4,55.7 L832.0,55.7 L832.6,55.7 L833.2,55.7 L833.8,55.8 L834.4,55.8 L835.0,55.8 L835.6,55.8 L836.2,55.8 L836.8,55.8 L837.4,55.8 L838.0,55.8 L838.6,55.8 L839.2,55.8 L839.8,55.8 L840.4,55.8 L841.0,55.7 L841.6,55.7 L842.2,55.7 L842.8,55.7 L843.4,55.7 L844.0,55.6 L844.6,55.6 L845.2,55.6 L845.8,55.6 L846.4,55.5 L847.0,55.5 L847.6,55.5 L848.2,55.5 L848.8,55.4 L849.4,55.4 L850.0,55.4 L850.6,55.3 L851.2,55.3 L851.8,55.3 L852.4,55.2 L853.0,55.2 L853.6,55.2 L854.2,55.1 L854.8,55.1 L855.4,55.1 L856.0,55.0 L856.6,55.0 L857.2,55.0 L857.8,54.9 L858.4,54.9 L859.0,54.9 L859.6,54.9 L860.2,54.8 L860.8,54.8 L861.4,54.8 L862.0,54.7 L862.6,54.7 L863.2,54.7 L863.8,54.7 L864.4,54.6 L865.0,54.6 L865.6,54.6 L866.2,54.6 L866.8,54.6 L867.4,54.5 L868.0,54.5 L868.6,54.5 L869.2,54.5 L869.8,54.4 L870.4,54.4 L871.0,54.4 L871.6,54.4 L872.2,54.4 L872.8,54.3 L873.4,54.3 L874.0,54.3 L874.6,54.3 L875.2,54.2 L875.8,54.2 L876.4,54.2 L877.0,54.2 L877.6,54.2 L878.2,54.1 L878.8,54.1 L879.4,54.1 L880.0,54.1 L880.6,54.1 L881.2,54.0 L881.8,54.0 L882.4,54.0 L883.0,54.0 L883.6,53.9 L884.2,53.9 L884.8,53.9 L885.4,53.9 L886.0,53.9 L886.6,53.8 L887.2,53.8 L887.8,53.8" fill="none" stroke="#ff7f00" stroke-width="7.7" stroke-linejoin="round" stroke-linecap="butt"/>
<path d="M82.1,255.8 L83.2,255.9 L83.8,256.1 L84.4,256.2 L85.0,256.3 L85.6,256.4 L86.2,256.5 L86.8,256.7 L87.4,256.8 L88.0,256.9 L88.6,257.1 L89.2,257.2 L89.8,257.4 L90.4,257.5 L91.0,257.7 L91.6,257.8 L92.2,258.0 L92.8,258.2 L93.4,258.4 L94.0,258.7 L94.6,258.9 L95.2,259.0 L95.8,259.2 L96.4,259.3 L97.0,259.4 L97.6,259.5 L98.2,259.5 L98.8,259.5 L99.4,259.4 L100.0,259.3 L100.6,259.2 L101.2,259.0 L101.8,258.9 L102.4,258.7 L103.0,258.5 L103.6,258.4 L104.2,258.2 L104.8,258.0 L105.4,257.9 L106.0,257.7 L106.6,257.6 L107.2,257.6 L107.8,257.5 L108.4,257.5 L109.0,257.5 L109.6,257.5 L110.2,257.6 L110.8,257.7 L111.4,257.7 L112.0,257.8 L112.6,257.9 L113.2,258.0 L113.8,258.2 L114.4,258.3 L115.0,258.5 L115.6,258.6 L116.2,258.8 L116.8,259.2 L117.4,259.8 L118.0,260.6 L118.6,261.4 L119.2,262.3 L119.8,263.1 L120.4,263.9 L121.0,264.5 L121.6,264.9 L122.2,265.1 L122.8,265.0 L123.4,264.7 L124.0,264.2 L124.6,263.5 L125.2,262.8 L125.8,261.9 L126.4,261.1 L127.0,260.3 L127.6,259.6 L128.2,259.0 L128.8,258.6 L129.4,258.2 L130.0,257.8 L130.6,257.5 L131.2,257.1 L131.8,256.9 L132.4,256.6 L133.0,256.4 L133.6,256.2 L134.2,256.1 L134.8,256.0 L135.4,255.8 L136.0,255.7 L136.6,255.6 L137.2,255.5 L137.8,255.4 L138.4,255.3 L139.0,255.2 L139.6,255.2 L140.2,255.1 L140.8,255.0 L141.4,255.0 L142.0,255.0 L142.6,254.9 L143.2,254.9 L143.8,254.9 L144.4,254.9 L145.0,254.9 L145.6,254.9 L146.2,254.9 L146.8,254.9 L147.4,254.9 L148.0,254.9 L148.6,254.9 L149.2,254.9 L149.8,254.9 L150.4,254.9 L151.0,254.9 L151.6,254.9 L152.2,254.9 L152.8,254.9 L153.4,254.9 L154.0,254.9 L154.6,254.9 L155.2,254.9 L155.8,254.9 L156.4,254.9 L157.0,254.9 L157.6,254.9 L158.2,254.9 L158.8,254.9 L159.4,254.9 L160.0,254.9 L160.6,255.0 L161.2,255.0 L161.8,255.1 L162.4,255.2 L163.0,255.3 L163.6,255.4 L164.2,255.5 L164.8,255.6 L165.4,255.8 L166.0,255.9 L166.6,256.0 L167.2,256.1 L167.8,256.2 L168.4,256.4 L169.0,256.4 L169.6,256.5 L170.2,256.6 L170.8,256.7 L171.4,256.7 L172.0,256.7 L172.6,256.7 L173.2,256.6 L173.8,256.5 L174.4,256.4 L175.0,256.3 L175.6,256.1 L176.2,255.9 L176.8,255.8 L177.4,255.7 L178.0,255.5 L178.6,255.5 L179.2,255.4 L179.8,255.4 L180.4,255.5 L181.0,255.8 L181.6,256.1 L182.2,256.5 L182.8,257.0 L183.4,257.5 L184.0,258.0 L184.6,258.6 L185.2,259.3 L185.8,260.2 L186.4,261.3 L187.0,262.5 L187.6,264.0 L188.2,266.1 L188.8,268.9 L189.4,273.8 L190.0,279.6 L190.6,282.9 L191.2,282.1 L191.8,278.2 L192.4,271.1 L193.0,264.6 L193.6,260.7 L194.2,259.1 L194.8,258.0 L195.4,257.2 L196.0,256.6 L196.6,256.2 L197.2,255.8 L197.8,255.5 L198.4,255.2 L199.0,255.0 L199.6,254.9 L200.2,254.9 L200.8,254.9 L201.4,254.9 L202.0,254.9 L202.6,254.9 L203.2,254.9 L203.8,254.9 L204.4,254.9 L205.0,254.9 L205.6,254.9 L206.2,254.9 L206.8,254.9 L207.4,254.9 L208.0,254.9 L208.6,254.9 L209.2,254.9 L209.8,255.0 L210.4,255.1 L211.0,255.3 L211.6,255.5 L212.2,255.7 L212.8,256.0 L213.4,256.2 L214.0,256.5 L214.6,256.7 L215.2,257.0 L215.8,257.2 L216.4,257.3 L217.0,257.4 L217.6,257.5 L218.2,257.5 L218.8,257.4 L219.4,257.3 L220.0,257.1 L220.6,256.9 L221.2,256.6 L221.8,256.4 L222.4,256.1 L223.0,255.9 L223.6,255.7 L224.2,255.6 L224.8,255.4 L225.4,255.4 L226.0,255.4 L226.6,255.6 L227.2,255.9 L227.8,256.2 L228.4,256.6 L229.0,257.1 L229.6,257.7 L230.2,258.2 L230.8,258.9 L231.4,259.5 L232.0,260.1 L232.6,260.9 L233.2,261.8 L233.8,262.9 L234.4,264.1 L235.0,265.3 L235.6,266.5 L236.2,267.7 L236.8,268.7 L237.4,269.6 L238.0,270.6 L238.6,271.6 L239.2,272.6 L239.8,273.5 L240.4,274.3 L241.0,274.9 L241.6,275.2 L242.2,275.3 L242.8,274.9 L243.4,274.3 L244.0,273.5 L244.6,272.5 L245.2,271.5 L245.8,270.7 L246.4,270.1 L247.0,269.7 L247.6,269.8 L248.2,270.1 L248.8,270.8 L249.4,271.6 L250.0,272.5 L250.6,273.5 L251.2,274.6 L251.8,275.6 L252.4,276.5 L253.0,277.3 L253.6,277.9 L254.2,278.4 L254.8,278.9 L255.4,279.4 L256.0,279.9 L256.6,280.3 L257.2,280.7 L257.8,281.1 L258.4,281.4 L259.0,281.6 L259.6,281.7 L260.2,281.7 L260.8,281.6 L261.4,281.3 L262.0,281.0 L262.6,280.5 L263.2,280.0 L263.8,279.4 L264.4,278.8 L265.0,278.1 L265.6,277.4 L266.2,276.7 L266.8,275.9 L267.4,274.9 L268.0,273.6 L268.6,272.2 L269.2,270.7 L269.8,269.2 L270.4,267.6 L271.0,266.0 L271.6,264.5 L272.2,262.6 L272.8,260.4 L273.4,258.5 L274.0,256.9 L274.6,256.2 L275.2,257.0 L275.8,259.8 L276.4,263.7 L277.0,267.9 L277.6,271.5 L278.2,273.7 L278.8,273.8 L279.4,272.0 L280.0,269.0 L280.6,265.4 L281.2,261.8 L281.8,258.6 L282.4,256.6 L283.0,256.2 L283.6,256.8 L284.2,257.9 L284.8,259.4 L285.4,261.3 L286.0,263.4 L286.6,265.6 L287.2,267.8 L287.8,270.0 L288.4,271.9 L289.0,273.5 L289.6,275.3 L290.2,277.2 L290.8,279.2 L291.4,281.2 L292.0,283.2 L292.6,285.0 L293.2,286.6 L293.8,288.0 L294.4,289.1 L295.0,289.8 L295.6,290.0 L296.2,289.4 L296.8,287.7 L297.4,285.3 L298.0,282.4 L298.6,279.3 L299.2,276.3 L299.8,273.0 L300.4,268.7 L301.0,263.9 L301.6,259.9 L302.2,257.4 L302.8,257.1 L303.4,257.5 L304.0,258.1 L304.6,259.0 L305.2,260.0 L305.8,260.9 L306.4,261.7 L307.0,262.3 L307.6,262.5 L308.2,262.3 L308.8,261.6 L309.4,260.7 L310.0,259.6 L310.6,258.6 L311.2,257.6 L311.8,257.0 L312.4,256.6 L313.0,256.4 L313.6,256.2 L314.2,256.0 L314.8,255.8 L315.4,255.7 L316.0,255.6 L316.6,255.4 L317.2,255.4 L317.8,255.3 L318.4,255.3 L319.0,255.4 L319.6,255.8 L320.2,256.5 L320.8,257.2 L321.4,258.0 L322.0,258.7 L322.6,259.2 L323.2,259.5 L323.8,259.4 L324.4,259.1 L325.0,258.5 L325.6,257.8 L326.2,257.1 L326.8,256.4 L327.4,256.0 L328.0,255.8 L328.6,255.8 L329.2,255.8 L329.8,255.8 L330.4,255.8 L331.0,255.8 L331.6,255.8 L332.2,255.9 L332.8,255.9 L333.4,255.9 L334.0,255.9 L334.6,255.9 L335.2,256.0 L335.8,256.0 L336.4,256.0 L337.0,256.0 L337.6,256.1 L338.2,256.1 L338.8,256.2 L339.4,256.2 L340.0,256.5 L340.6,256.9 L341.2,257.5 L341.8,258.3 L342.4,259.0 L343.0,259.8 L343.6,260.6 L344.2,261.2 L344.8,261.8 L345.4,262.3 L346.0,262.9 L346.6,263.5 L347.2,264.1 L347.8,264.5 L348.4,264.8 L349.0,264.9 L349.6,264.7 L350.2,264.2 L350.8,263.5 L351.4,262.6 L352.0,261.8 L352.6,260.9 L353.2,260.2 L353.8,259.7 L354.4,259.5 L355.0,259.7 L355.6,260.4 L356.2,261.3 L356.8,262.5 L357.4,263.8 L358.0,265.1 L358.6,266.9 L359.2,269.7 L359.8,276.6 L360.4,291.0 L361.0,295.1 L361.6,288.0 L362.2,272.5 L362.8,266.4 L363.4,262.8 L364.0,260.7 L364.6,259.1 L365.2,257.9 L365.8,257.3 L366.4,257.0 L367.0,256.6 L367.6,256.4 L368.2,256.1 L368.8,255.9 L369.4,255.7 L370.0,255.5 L370.6,255.4 L371.2,255.3 L371.8,255.2 L372.4,255.2 L373.0,255.2 L373.6,255.4 L374.2,255.8 L374.8,256.3 L375.4,256.9 L376.0,257.6 L376.6,258.2 L377.2,258.7 L377.8,259.2 L378.4,259.4 L379.0,259.5 L379.6,259.2 L380.2,258.7 L380.8,258.0 L381.4,257.5 L382.0,257.0 L382.6,256.9 L383.2,258.0 L383.8,260.0 L384.4,262.5 L385.0,264.7 L385.6,265.9 L386.2,265.7 L386.8,264.5 L387.4,262.7 L388.0,260.8 L388.6,259.1 L389.2,258.1 L389.8,257.3 L390.4,256.7 L391.0,256.3 L391.6,256.1 L392.2,256.0 L392.8,256.0 L393.4,255.9 L394.0,255.8 L394.6,255.7 L395.2,255.7 L395.8,255.6 L396.4,255.5 L397.0,255.5 L397.6,255.4 L398.2,255.4 L398.8,255.4 L399.4,255.3 L400.0,255.3 L400.6,255.3 L401.2,255.3 L401.8,255.2 L402.4,255.2 L403.0,255.2 L403.6,255.2 L404.2,255.2 L404.8,255.2 L405.4,255.2 L406.0,255.2 L406.6,255.2 L407.2,255.2 L407.8,255.2 L408.4,255.2 L409.0,255.2 L409.6,255.2 L410.2,255.2 L410.8,255.2 L411.4,255.2 L412.0,255.2 L412.6,255.2 L413.2,255.3 L413.8,255.3 L414.4,255.3 L415.0,255.3 L415.6,255.3 L416.2,255.3 L416.8,255.3 L417.4,255.3 L418.0,255.3 L418.6,255.3 L419.2,255.3 L419.8,255.3 L420.4,255.3 L421.0,255.4 L421.6,255.4 L422.2,255.4 L422.8,255.4 L423.4,255.4 L424.0,255.4 L424.6,255.4 L425.2,255.4 L425.8,255.4 L426.4,255.4 L427.0,255.4 L427.6,255.4 L428.2,255.4 L428.8,255.4 L429.4,255.4 L430.0,255.4 L430.6,255.4 L431.2,255.4 L431.8,255.4 L432.4,255.4 L433.0,255.4 L433.6,255.4 L434.2,255.4 L434.8,255.4 L435.4,255.4 L436.0,255.4 L436.6,255.4 L437.2,255.4 L437.8,255.4 L438.4,255.4 L439.0,255.4 L439.6,255.4 L440.2,255.4 L440.8,255.4 L441.4,255.4 L442.0,255.3 L442.6,255.3 L443.2,255.3 L443.8,255.3 L444.4,255.3 L445.0,255.3 L445.6,255.3 L446.2,255.3 L446.8,255.3 L447.4,255.3 L448.0,255.3 L448.6,255.3 L449.2,255.3 L449.8,255.3 L450.4,255.3 L451.0,255.3 L451.6,255.3 L452.2,255.3 L452.8,255.2 L453.4,255.2 L454.0,255.2 L454.6,255.2 L455.2,255.2 L455.8,255.2 L456.4,255.2 L457.0,255.2 L457.6,255.2 L458.2,255.2 L458.8,255.2 L459.4,255.2 L460.0,255.2 L460.6,255.2 L461.2,255.1 L461.8,255.1 L462.4,255.1 L463.0,255.1 L463.6,255.1 L464.2,255.1 L464.8,255.1 L465.4,255.1 L466.0,255.1 L466.6,255.1 L467.2,255.1 L467.8,255.1 L468.4,255.1 L469.0,255.1 L469.6,255.0 L470.2,255.0 L470.8,255.0 L471.4,255.0 L472.0,255.0 L472.6,255.0 L473.2,255.0 L473.8,255.0 L474.4,255.0 L475.0,255.0 L475.6,255.0 L476.2,255.0 L476.8,255.0 L477.4,254.9 L478.0,254.9 L478.6,254.9 L479.2,254.9 L479.8,254.9 L480.4,254.9 L481.0,254.9 L481.6,254.9 L482.2,254.9 L482.8,254.9 L483.4,254.9 L484.0,254.9 L484.6,254.9 L485.2,254.9 L485.8,254.8 L486.4,254.8 L487.0,254.8 L487.6,254.8 L488.2,254.8 L488.8,254.8 L489.4,254.8 L490.0,254.8 L490.6,254.8 L491.2,254.8 L491.8,254.8 L492.4,254.8 L493.0,254.8 L493.6,254.8 L494.2,254.8 L494.8,254.8 L495.4,254.8 L496.0,254.8 L496.6,254.7 L497.2,254.7 L497.8,254.7 L498.4,254.7 L499.0,254.7 L499.6,254.7 L500.2,254.7 L500.8,254.7 L501.4,254.7 L502.0,254.7 L502.6,254.7 L503.2,254.7 L503.8,254.7 L504.4,254.7 L505.0,254.7 L505.6,254.7 L506.2,254.7 L506.8,254.7 L507.4,254.7 L508.0,254.7 L508.6,254.7 L509.2,254.7 L509.8,254.7 L510.4,254.7 L511.0,254.7 L511.6,254.7 L512.2,254.7 L512.8,254.7 L513.4,254.7 L514.0,254.7 L514.6,254.7 L515.2,254.7 L515.8,254.7 L516.4,254.7 L517.0,254.7 L517.6,254.7 L518.2,254.7 L518.8,254.7 L519.4,254.7 L520.0,254.7 L520.6,254.7 L521.2,254.7 L521.8,254.7 L522.4,254.7 L523.0,254.7 L523.6,254.7 L524.2,254.7 L524.8,254.7 L525.4,254.7 L526.0,254.7 L526.6,254.7 L527.2,254.7 L527.8,254.7 L528.4,254.7 L529.0,254.7 L529.6,254.7 L530.2,254.7 L530.8,254.7 L531.4,254.7 L532.0,254.7 L532.6,254.7 L533.2,254.7 L533.8,254.7 L534.4,254.7 L535.0,254.7 L535.6,254.8 L536.2,254.8 L536.8,254.8 L537.4,254.8 L538.0,254.8 L538.6,254.8 L539.2,254.8 L539.8,254.8 L540.4,254.8 L541.0,254.8 L541.6,254.8 L542.2,254.8 L542.8,254.8 L543.4,254.8 L544.0,254.8 L544.6,254.8 L545.2,254.8 L545.8,254.8 L546.4,254.8 L547.0,254.8 L547.6,254.8 L548.2,254.8 L548.8,254.8 L549.4,254.8 L550.0,254.8 L550.6,254.8 L551.2,254.8 L551.8,254.8 L552.4,254.8 L553.0,254.8 L553.6,254.8 L554.2,254.8 L554.8,254.8 L555.4,254.8 L556.0,254.8 L556.6,254.8 L557.2,254.8 L557.8,254.8 L558.4,254.8 L559.0,254.8 L559.6,254.9 L560.2,254.9 L560.8,254.9 L561.4,254.9 L562.0,254.9 L562.6,254.9 L563.2,254.9 L563.8,254.9 L564.4,254.9 L565.0,254.9 L565.6,254.9 L566.2,254.9 L566.8,254.9 L567.4,254.9 L568.0,254.9 L568.6,254.9 L569.2,254.9 L569.8,254.9 L570.4,254.9 L571.0,254.9 L571.6,254.9 L572.2,254.9 L572.8,254.9 L573.4,254.9 L574.0,254.9 L574.6,254.9 L575.2,254.9 L575.8,254.9 L576.4,254.9 L577.0,254.9 L577.6,254.9 L578.2,254.9 L578.8,254.9 L579.4,254.9 L580.0,254.9 L580.6,254.9 L581.2,254.9 L581.8,254.9 L582.4,255.0 L583.0,255.0 L583.6,255.0 L584.2,255.0 L584.8,255.0 L585.4,255.0 L586.0,255.0 L586.6,255.0 L587.2,255.0 L587.8,255.0 L588.4,255.0 L589.0,255.0 L589.6,255.0 L590.2,255.0 L590.8,255.0 L591.4,255.0 L592.0,255.0 L592.6,255.0 L593.2,255.0 L593.8,255.0 L594.4,255.0 L595.0,255.0 L595.6,255.0 L596.2,255.0 L596.8,255.0 L597.4,255.0 L598.0,255.0 L598.6,255.0 L599.2,255.0 L599.8,255.0 L600.4,255.0 L601.0,255.0 L601.6,255.0 L602.2,255.0 L602.8,255.0 L603.4,255.0 L604.0,255.0 L604.6,255.0 L605.2,255.0 L605.8,255.0 L606.4,255.0 L607.0,255.0 L607.6,255.0 L608.2,255.0 L608.8,255.0 L609.4,255.0 L610.0,255.0 L610.6,255.0 L611.2,255.0 L611.8,255.0 L612.4,255.0 L613.0,255.0 L613.6,255.0 L614.2,255.0 L614.8,255.0 L615.4,255.0 L616.0,255.0 L616.6,255.0 L617.2,255.0 L617.8,255.0 L618.4,255.0 L619.0,255.0 L619.6,255.0 L620.2,255.0 L620.8,255.0 L621.4,255.0 L622.0,255.0 L622.6,255.0 L623.2,255.0 L623.8,255.0 L624.4,255.0 L625.0,255.0 L625.6,255.0 L626.2,255.0 L626.8,255.0 L627.4,255.0 L628.0,255.0 L628.6,255.0 L629.2,255.0 L629.8,255.0 L630.4,255.0 L631.0,255.0 L631.6,255.0 L632.2,255.0 L632.8,255.0 L633.4,255.0 L634.0,255.0 L634.6,255.0 L635.2,255.0 L635.8,255.0 L636.4,255.0 L637.0,255.0 L637.6,255.0 L638.2,255.0 L638.8,255.0 L639.4,255.0 L640.0,255.0 L640.6,255.0 L641.2,255.0 L641.8,255.0 L642.4,255.0 L643.0,255.0 L643.6,255.0 L644.2,255.0 L644.8,255.0 L645.4,255.0 L646.0,255.0 L646.6,255.0 L647.2,255.0 L647.8,255.0 L648.4,255.0 L649.0,255.0 L649.6,255.0 L650.2,255.0 L650.8,255.0 L651.4,255.0 L652.0,255.0 L652.6,255.0 L653.2,255.0 L653.8,255.0 L654.4,255.0 L655.0,255.0 L655.6,255.0 L656.2,255.0 L656.8,255.0 L657.4,255.0 L658.0,255.0 L658.6,255.0 L659.2,255.0 L659.8,255.0 L660.4,255.0 L661.0,255.0 L661.6,255.0 L662.2,255.0 L662.8,255.0 L663.4,255.0 L664.0,255.0 L664.6,255.0 L665.2,255.0 L665.8,255.0 L666.4,255.0 L667.0,255.0 L667.6,255.1 L668.2,255.1 L668.8,255.1 L669.4,255.1 L670.0,255.1 L670.6,255.1 L671.2,255.1 L671.8,255.1 L672.4,255.1 L673.0,255.1 L673.6,255.1 L674.2,255.1 L674.8,255.1 L675.4,255.1 L676.0,255.1 L676.6,255.1 L677.2,255.1 L677.8,255.1 L678.4,255.1 L679.0,255.1 L679.6,255.1 L680.2,255.1 L680.8,255.1 L681.4,255.1 L682.0,255.1 L682.6,255.1 L683.2,255.1 L683.8,255.1 L684.4,255.1 L685.0,255.1 L685.6,255.1 L686.2,255.1 L686.8,255.1 L687.4,255.1 L688.0,255.1 L688.6,255.1 L689.2,255.1 L689.8,255.1 L690.4,255.1 L691.0,255.1 L691.6,255.1 L692.2,255.2 L692.8,255.4 L693.4,255.6 L694.0,256.0 L694.6,256.4 L695.2,256.8 L695.8,257.2 L696.4,257.6 L697.0,258.0 L697.6,258.4 L698.2,258.8 L698.8,259.2 L699.4,259.7 L700.0,260.1 L700.6,260.5 L701.2,260.9 L701.8,261.2 L702.4,261.5 L703.0,261.6 L703.6,261.6 L704.2,261.5 L704.8,261.4 L705.4,261.1 L706.0,260.9 L706.6,260.7 L707.2,260.4 L707.8,260.2 L708.4,259.9 L709.0,259.8 L709.6,259.7 L710.2,259.7 L710.8,259.8 L711.4,260.0 L712.0,260.3 L712.6,260.7 L713.2,261.1 L713.8,261.5 L714.4,261.8 L715.0,262.2 L715.6,262.5 L716.2,262.7 L716.8,262.9 L717.4,262.9 L718.0,262.9 L718.6,262.8 L719.2,262.6 L719.8,262.5 L720.4,262.3 L721.0,262.1 L721.6,261.8 L722.2,261.5 L722.8,261.2 L723.4,260.9 L724.0,260.6 L724.6,260.3 L725.2,260.0 L725.8,259.6 L726.4,259.2 L727.0,258.7 L727.6,258.1 L728.2,257.5 L728.8,256.9 L729.4,256.3 L730.0,255.9 L730.6,255.6 L731.2,255.4 L731.8,255.2 L732.4,255.1 L733.0,254.9 L733.6,254.8 L734.2,254.7 L734.8,254.6 L735.4,254.5 L736.0,254.5 L736.6,254.5 L737.2,254.5 L737.8,254.5 L738.4,254.5 L739.0,254.5 L739.6,254.5 L740.2,254.5 L740.8,254.5 L741.4,254.5 L742.0,254.5 L742.6,254.5 L743.2,254.5 L743.8,254.5 L744.4,254.5 L745.0,254.5 L745.6,254.5 L746.2,254.5 L746.8,254.5 L747.4,254.5 L748.0,254.5 L748.6,254.5 L749.2,254.5 L749.8,254.5 L750.4,254.5 L751.0,254.5 L751.6,254.5 L752.2,254.5 L752.8,254.5 L753.4,254.5 L754.0,254.5 L754.6,254.5 L755.2,254.5 L755.8,254.5 L756.4,254.5 L757.0,254.5 L757.6,254.5 L758.2,254.5 L758.8,254.5 L759.4,254.5 L760.0,254.5 L760.6,254.5 L761.2,254.5 L761.8,254.5 L762.4,254.5 L763.0,254.5 L763.6,254.6 L764.2,254.6 L764.8,254.6 L765.4,254.6 L766.0,254.6 L766.6,254.6 L767.2,254.6 L767.8,254.6 L768.4,254.6 L769.0,254.6 L769.6,254.6 L770.2,254.6 L770.8,254.6 L771.4,254.6 L772.0,254.6 L772.6,254.6 L773.2,254.6 L773.8,254.6 L774.4,254.6 L775.0,254.6 L775.6,254.6 L776.2,254.6 L776.8,254.6 L777.4,254.6 L778.0,254.6 L778.6,254.6 L779.2,254.6 L779.8,254.6 L780.4,254.6 L781.0,254.6 L781.6,254.6 L782.2,254.6 L782.8,254.6 L783.4,254.6 L784.0,254.6 L784.6,254.6 L785.2,254.6 L785.8,254.6 L786.4,254.6 L787.0,254.6 L787.6,254.6 L788.2,254.6 L788.8,254.6 L789.4,254.6 L790.0,254.6 L790.6,254.6 L791.2,254.6 L791.8,254.6 L792.4,254.6 L793.0,254.6 L793.6,254.6 L794.2,254.6 L794.8,254.6 L795.4,254.6 L796.0,254.6 L796.6,254.6 L797.2,254.6 L797.8,254.6 L798.4,254.6 L799.0,254.6 L799.6,254.6 L800.2,254.6 L800.8,254.6 L801.4,254.6 L802.0,254.6 L802.6,254.6 L803.2,254.6 L803.8,254.6 L804.4,254.6 L805.0,254.6 L805.6,254.6 L806.2,254.6 L806.8,254.6 L807.4,254.6 L808.0,254.6 L808.6,254.6 L809.2,254.6 L809.8,254.6 L810.4,254.6 L811.0,254.6 L811.6,254.6 L812.2,254.6 L812.8,254.6 L813.4,254.6 L814.0,254.6 L814.6,254.6 L815.2,254.6 L815.8,254.6 L816.4,254.6 L817.0,254.6 L817.6,254.6 L818.2,254.6 L818.8,254.6 L819.4,254.6 L820.0,254.6 L820.6,254.6 L821.2,254.6 L821.8,254.6 L822.4,254.6 L823.0,254.6 L823.6,254.6 L824.2,254.6 L824.8,254.6 L825.4,254.6 L826.0,254.6 L826.6,254.6 L827.2,254.6 L827.8,254.6 L828.4,254.6 L829.0,254.6 L829.6,254.6 L830.2,254.6 L830.8,254.6 L831.4,254.6 L832.0,254.6 L832.6,254.6 L833.2,254.6 L833.8,254.6 L834.4,254.6 L835.0,254.6 L835.6,254.6 L836.2,254.6 L836.8,254.6 L837.4,254.6 L838.0,254.6 L838.6,254.6 L839.2,254.6 L839.8,254.6 L840.4,254.6 L841.0,254.6 L841.6,254.6 L842.2,254.6 L842.8,254.6 L843.4,254.6 L844.0,254.6 L844.6,254.6 L845.2,254.6 L845.8,254.6 L846.4,254.6 L847.0,254.6 L847.6,254.6 L848.2,254.6 L848.8,254.6 L849.4,254.6 L850.0,254.6 L850.6,254.6 L851.2,254.6 L851.8,254.6 L852.4,254.6 L853.0,254.6 L853.6,254.6 L854.2,254.6 L854.8,254.6 L855.4,254.6 L856.0,254.6 L856.6,254.6 L857.2,254.6 L857.8,254.6 L858.4,254.6 L859.0,254.6 L859.6,254.6 L860.2,254.6 L860.8,254.6 L861.4,254.6 L862.0,254.6 L862.6,254.6 L863.2,254.6 L863.8,254.6 L864.4,254.6 L865.0,254.6 L865.6,254.6 L866.2,254.6 L866.8,254.6 L867.4,254.6 L868.0,254.6 L868.6,254.6 L869.2,254.6 L869.8,254.6 L870.4,254.6 L871.0,254.6 L871.6,254.6 L872.2,254.6 L872.8,254.6 L873.4,254.6 L874.0,254.6 L874.6,254.6 L875.2,254.6 L875.8,254.6 L876.4,254.6 L877.0,254.6 L877.6,254.6 L878.2,254.6 L878.8,254.6 L879.4,254.6 L880.0,254.6 L880.6,254.6 L881.2,254.6 L881.8,254.6 L882.4,254.6 L883.0,254.6 L883.6,254.6 L884.2,254.6 L884.8,254.6 L885.4,254.6 L886.0,254.6 L886.6,254.6 L887.2,254.6 L887.8,254.6" fill="none" stroke="#ff00ff" stroke-width="7.7" stroke-linejoin="round" stroke-linecap="butt"/>
<path d="M82.1,315.6 L83.2,315.7 L83.8,315.8 L84.4,316.0 L85.0,316.1 L85.6,316.3 L86.2,316.5 L86.8,316.7 L87.4,316.9 L88.0,317.1 L88.6,317.3 L89.2,317.5 L89.8,317.8 L90.4,318.0 L91.0,318.3 L91.6,318.6 L92.2,319.1 L92.8,319.5 L93.4,320.0 L94.0,320.5 L94.6,321.0 L95.2,321.4 L95.8,321.8 L96.4,322.2 L97.0,322.4 L97.6,322.6 L98.2,322.6 L98.8,322.4 L99.4,322.1 L100.0,321.7 L100.6,321.2 L101.2,320.7 L101.8,320.1 L102.4,319.6 L103.0,319.1 L103.6,318.8 L104.2,318.5 L104.8,318.4 L105.4,318.4 L106.0,318.3 L106.6,318.2 L107.2,318.2 L107.8,318.1 L108.4,318.1 L109.0,318.0 L109.6,318.0 L110.2,318.0 L110.8,318.0 L111.4,318.1 L112.0,318.3 L112.6,318.7 L113.2,319.1 L113.8,319.6 L114.4,320.2 L115.0,320.9 L115.6,321.5 L116.2,322.1 L116.8,322.7 L117.4,323.3 L118.0,324.0 L118.6,324.8 L119.2,325.6 L119.8,326.4 L120.4,327.0 L121.0,327.5 L121.6,327.7 L122.2,327.6 L122.8,327.3 L123.4,326.8 L124.0,326.2 L124.6,325.5 L125.2,324.7 L125.8,323.9 L126.4,323.1 L127.0,322.3 L127.6,321.7 L128.2,321.0 L128.8,320.2 L129.4,319.3 L130.0,318.5 L130.6,317.8 L131.2,317.1 L131.8,316.6 L132.4,316.3 L133.0,316.2 L133.6,316.1 L134.2,315.9 L134.8,315.8 L135.4,315.7 L136.0,315.6 L136.6,315.5 L137.2,315.4 L137.8,315.4 L138.4,315.3 L139.0,315.2 L139.6,315.2 L140.2,315.1 L140.8,315.1 L141.4,315.1 L142.0,315.0 L142.6,315.0 L143.2,315.0 L143.8,315.0 L144.4,315.0 L145.0,315.0 L145.6,315.0 L146.2,315.0 L146.8,315.0 L147.4,315.0 L148.0,315.0 L148.6,315.0 L149.2,315.0 L149.8,315.0 L150.4,315.0 L151.0,315.0 L151.6,315.0 L152.2,315.0 L152.8,315.0 L153.4,315.0 L154.0,315.0 L154.6,315.0 L155.2,315.0 L155.8,315.0 L156.4,315.0 L157.0,315.0 L157.6,315.0 L158.2,315.0 L158.8,315.0 L159.4,315.0 L160.0,315.0 L160.6,315.1 L161.2,315.2 L161.8,315.3 L162.4,315.5 L163.0,315.6 L163.6,315.8 L164.2,316.0 L164.8,316.2 L165.4,316.4 L166.0,316.6 L166.6,316.8 L167.2,316.9 L167.8,317.1 L168.4,317.2 L169.0,317.4 L169.6,317.4 L170.2,317.5 L170.8,317.5 L171.4,317.5 L172.0,317.4 L172.6,317.3 L173.2,317.2 L173.8,317.1 L174.4,316.9 L175.0,316.8 L175.6,316.6 L176.2,316.5 L176.8,316.4 L177.4,316.3 L178.0,316.3 L178.6,316.4 L179.2,316.7 L179.8,317.4 L180.4,318.3 L181.0,319.2 L181.6,320.1 L182.2,321.1 L182.8,322.2 L183.4,323.4 L184.0,324.7 L184.6,326.1 L185.2,327.7 L185.8,329.4 L186.4,331.5 L187.0,333.9 L187.6,336.4 L188.2,338.9 L188.8,342.2 L189.4,344.0 L190.0,342.7 L190.6,339.4 L191.2,331.4 L191.8,324.2 L192.4,320.3 L193.0,318.9 L193.6,317.8 L194.2,317.1 L194.8,316.5 L195.4,316.2 L196.0,315.9 L196.6,315.7 L197.2,315.5 L197.8,315.3 L198.4,315.2 L199.0,315.1 L199.6,315.0 L200.2,315.0 L200.8,315.0 L201.4,315.0 L202.0,315.0 L202.6,315.0 L203.2,315.1 L203.8,315.1 L204.4,315.1 L205.0,315.2 L205.6,315.2 L206.2,315.3 L206.8,315.3 L207.4,315.4 L208.0,315.4 L208.6,315.5 L209.2,315.6 L209.8,315.8 L210.4,316.1 L211.0,316.5 L211.6,317.1 L212.2,317.6 L212.8,318.2 L213.4,318.8 L214.0,319.3 L214.6,319.8 L215.2,320.2 L215.8,320.5 L216.4,320.6 L217.0,320.6 L217.6,320.5 L218.2,320.4 L218.8,320.2 L219.4,320.0 L220.0,319.7 L220.6,319.5 L221.2,319.2 L221.8,319.0 L222.4,318.8 L223.0,318.6 L223.6,318.5 L224.2,318.5 L224.8,318.6 L225.4,318.8 L226.0,319.2 L226.6,319.7 L227.2,320.3 L227.8,320.9 L228.4,321.6 L229.0,322.4 L229.6,323.1 L230.2,323.9 L230.8,324.7 L231.4,325.5 L232.0,326.5 L232.6,327.6 L233.2,328.7 L233.8,329.9 L234.4,331.0 L235.0,332.1 L235.6,333.1 L236.2,334.1 L236.8,335.2 L237.4,336.3 L238.0,337.4 L238.6,338.4 L239.2,339.3 L239.8,340.1 L240.4,340.7 L241.0,341.0 L241.6,340.9 L242.2,340.4 L242.8,339.6 L243.4,338.6 L244.0,337.5 L244.6,336.5 L245.2,335.7 L245.8,335.4 L246.4,335.5 L247.0,335.8 L247.6,336.3 L248.2,336.9 L248.8,337.7 L249.4,338.4 L250.0,339.2 L250.6,339.8 L251.2,340.4 L251.8,340.8 L252.4,341.0 L253.0,341.1 L253.6,341.2 L254.2,341.3 L254.8,341.4 L255.4,341.5 L256.0,341.6 L256.6,341.6 L257.2,341.7 L257.8,341.7 L258.4,341.7 L259.0,341.6 L259.6,341.3 L260.2,340.8 L260.8,340.1 L261.4,339.3 L262.0,338.3 L262.6,337.3 L263.2,336.3 L263.8,335.2 L264.4,334.2 L265.0,333.3 L265.6,332.4 L266.2,331.5 L266.8,330.6 L267.4,329.6 L268.0,328.6 L268.6,327.6 L269.2,326.7 L269.8,325.7 L270.4,324.7 L271.0,323.7 L271.6,322.7 L272.2,321.4 L272.8,320.1 L273.4,318.9 L274.0,317.9 L274.6,317.5 L275.2,318.1 L275.8,320.2 L276.4,323.1 L277.0,326.2 L277.6,328.9 L278.2,330.6 L278.8,330.6 L279.4,329.2 L280.0,326.9 L280.6,324.0 L281.2,321.2 L281.8,318.7 L282.4,317.1 L283.0,316.8 L283.6,317.3 L284.2,318.3 L284.8,319.6 L285.4,321.2 L286.0,323.0 L286.6,324.7 L287.2,326.4 L287.8,327.8 L288.4,329.0 L289.0,330.3 L289.6,331.7 L290.2,333.0 L290.8,334.4 L291.4,335.6 L292.0,336.8 L292.6,337.7 L293.2,338.4 L293.8,338.9 L294.4,339.0 L295.0,338.3 L295.6,336.9 L296.2,335.0 L296.8,332.7 L297.4,330.5 L298.0,328.5 L298.6,326.6 L299.2,324.4 L299.8,322.0 L300.4,319.9 L301.0,318.1 L301.6,317.0 L302.2,316.8 L302.8,317.1 L303.4,317.7 L304.0,318.5 L304.6,319.4 L305.2,320.3 L305.8,321.1 L306.4,321.6 L307.0,321.9 L307.6,321.8 L308.2,321.3 L308.8,320.5 L309.4,319.6 L310.0,318.7 L310.6,317.8 L311.2,317.0 L311.8,316.5 L312.4,316.3 L313.0,316.1 L313.6,316.0 L314.2,316.0 L314.8,315.9 L315.4,315.8 L316.0,315.8 L316.6,315.8 L317.2,315.9 L317.8,316.1 L318.4,316.4 L319.0,316.8 L319.6,317.2 L320.2,317.6 L320.8,318.0 L321.4,318.3 L322.0,318.7 L322.6,318.9 L323.2,319.0 L323.8,318.9 L324.4,318.7 L325.0,318.2 L325.6,317.7 L326.2,317.1 L326.8,316.6 L327.4,316.1 L328.0,315.9 L328.6,315.8 L329.2,315.8 L329.8,315.8 L330.4,315.8 L331.0,315.8 L331.6,315.8 L332.2,315.8 L332.8,315.9 L333.4,315.9 L334.0,315.9 L334.6,315.9 L335.2,315.9 L335.8,316.0 L336.4,316.0 L337.0,316.0 L337.6,316.1 L338.2,316.1 L338.8,316.2 L339.4,316.2 L340.0,316.5 L340.6,317.0 L341.2,317.7 L341.8,318.5 L342.4,319.3 L343.0,320.2 L343.6,321.1 L344.2,321.8 L344.8,322.5 L345.4,323.2 L346.0,324.0 L346.6,324.8 L347.2,325.5 L347.8,326.1 L348.4,326.5 L349.0,326.6 L349.6,326.5 L350.2,326.1 L350.8,325.5 L351.4,324.8 L352.0,324.1 L352.6,323.4 L353.2,322.8 L353.8,322.4 L354.4,322.3 L355.0,322.5 L355.6,323.2 L356.2,324.3 L356.8,325.5 L357.4,327.0 L358.0,328.6 L358.6,330.7 L359.2,333.7 L359.8,337.7 L360.4,345.0 L361.0,348.1 L361.6,342.8 L362.2,336.0 L362.8,331.7 L363.4,328.1 L364.0,325.0 L364.6,322.1 L365.2,319.5 L365.8,317.5 L366.4,316.8 L367.0,316.5 L367.6,316.2 L368.2,316.0 L368.8,315.8 L369.4,315.7 L370.0,315.6 L370.6,315.5 L371.2,315.4 L371.8,315.3 L372.4,315.3 L373.0,315.3 L373.6,315.5 L374.2,315.9 L374.8,316.4 L375.4,317.1 L376.0,317.7 L376.6,318.4 L377.2,318.9 L377.8,319.4 L378.4,319.6 L379.0,319.7 L379.6,319.4 L380.2,318.8 L380.8,318.1 L381.4,317.4 L382.0,316.9 L382.6,316.8 L383.2,317.8 L383.8,319.8 L384.4,322.1 L385.0,324.2 L385.6,325.4 L386.2,325.2 L386.8,324.0 L387.4,322.2 L388.0,320.2 L388.6,318.6 L389.2,317.7 L389.8,317.1 L390.4,316.6 L391.0,316.3 L391.6,316.1 L392.2,316.0 L392.8,315.9 L393.4,315.7 L394.0,315.6 L394.6,315.5 L395.2,315.4 L395.8,315.3 L396.4,315.3 L397.0,315.2 L397.6,315.1 L398.2,315.0 L398.8,315.0 L399.4,314.9 L400.0,314.9 L400.6,314.8 L401.2,314.8 L401.8,314.8 L402.4,314.8 L403.0,314.7 L403.6,314.7 L404.2,314.7 L404.8,314.7 L405.4,314.7 L406.0,314.8 L406.6,314.8 L407.2,315.0 L407.8,315.2 L408.4,315.3 L409.0,315.6 L409.6,315.8 L410.2,316.0 L410.8,316.2 L411.4,316.4 L412.0,316.5 L412.6,316.7 L413.2,316.8 L413.8,316.8 L414.4,316.8 L415.0,316.6 L415.6,316.4 L416.2,316.2 L416.8,315.9 L417.4,315.6 L418.0,315.3 L418.6,315.1 L419.2,314.9 L419.8,314.8 L420.4,314.7 L421.0,314.8 L421.6,315.2 L422.2,315.7 L422.8,316.2 L423.4,316.9 L424.0,317.4 L424.6,317.9 L425.2,318.3 L425.8,318.4 L426.4,318.4 L427.0,318.4 L427.6,318.4 L428.2,318.3 L428.8,318.3 L429.4,318.3 L430.0,318.3 L430.6,318.2 L431.2,318.2 L431.8,318.1 L432.4,318.1 L433.0,318.0 L433.6,318.0 L434.2,317.9 L434.8,317.9 L435.4,317.8 L436.0,317.8 L436.6,317.7 L437.2,317.7 L437.8,317.6 L438.4,317.6 L439.0,317.6 L439.6,317.5 L440.2,317.5 L440.8,317.5 L441.4,317.4 L442.0,317.4 L442.6,317.4 L443.2,317.3 L443.8,317.3 L444.4,317.3 L445.0,317.3 L445.6,317.2 L446.2,317.2 L446.8,317.2 L447.4,317.2 L448.0,317.1 L448.6,317.1 L449.2,317.1 L449.8,317.1 L450.4,317.0 L451.0,317.0 L451.6,317.0 L452.2,317.0 L452.8,317.0 L453.4,316.9 L454.0,316.9 L454.6,316.9 L455.2,316.9 L455.8,316.8 L456.4,316.8 L457.0,316.8 L457.6,316.8 L458.2,316.8 L458.8,316.7 L459.4,316.7 L460.0,316.7 L460.6,316.7 L461.2,316.7 L461.8,316.6 L462.4,316.6 L463.0,316.6 L463.6,316.6 L464.2,316.6 L464.8,316.5 L465.4,316.5 L466.0,316.5 L466.6,316.5 L467.2,316.5 L467.8,316.4 L468.4,316.4 L469.0,316.4 L469.6,316.4 L470.2,316.4 L470.8,316.3 L471.4,316.3 L472.0,316.3 L472.6,316.3 L473.2,316.3 L473.8,316.2 L474.4,316.2 L475.0,316.2 L475.6,316.2 L476.2,316.2 L476.8,316.1 L477.4,316.1 L478.0,316.1 L478.6,316.1 L479.2,316.0 L479.8,316.0 L480.4,316.0 L481.0,316.0 L481.6,315.9 L482.2,315.9 L482.8,315.9 L483.4,315.9 L484.0,315.9 L484.6,315.8 L485.2,315.8 L485.8,315.8 L486.4,315.7 L487.0,315.7 L487.6,315.7 L488.2,315.7 L488.8,315.6 L489.4,315.6 L490.0,315.6 L490.6,315.6 L491.2,315.6 L491.8,315.5 L492.4,315.5 L493.0,315.5 L493.6,315.5 L494.2,315.4 L494.8,315.4 L495.4,315.4 L496.0,315.4 L496.6,315.4 L497.2,315.3 L497.8,315.3 L498.4,315.3 L499.0,315.3 L499.6,315.3 L500.2,315.2 L500.8,315.2 L501.4,315.2 L502.0,315.2 L502.6,315.2 L503.2,315.2 L503.8,315.2 L504.4,315.1 L505.0,315.1 L505.6,315.1 L506.2,315.1 L506.8,315.1 L507.4,315.1 L508.0,315.1 L508.6,315.1 L509.2,315.1 L509.8,315.1 L510.4,315.1 L511.0,315.1 L511.6,315.1 L512.2,315.1 L512.8,315.1 L513.4,315.1 L514.0,315.1 L514.6,315.1 L515.2,315.1 L515.8,315.1 L516.4,315.1 L517.0,315.1 L517.6,315.1 L518.2,315.1 L518.8,315.1 L519.4,315.1 L520.0,315.1 L520.6,315.1 L521.2,315.1 L521.8,315.1 L522.4,315.1 L523.0,315.1 L523.6,315.1 L524.2,315.1 L524.8,315.1 L525.4,315.1 L526.0,315.1 L526.6,315.1 L527.2,315.1 L527.8,315.1 L528.4,315.1 L529.0,315.1 L529.6,315.1 L530.2,315.1 L530.8,315.1 L531.4,315.1 L532.0,315.1 L532.6,315.1 L533.2,315.1 L533.8,315.1 L534.4,315.1 L535.0,315.1 L535.6,315.1 L536.2,315.1 L536.8,315.1 L537.4,315.1 L538.0,315.1 L538.6,315.1 L539.2,315.1 L539.8,315.1 L540.4,315.1 L541.0,315.1 L541.6,315.1 L542.2,315.1 L542.8,315.1 L543.4,315.1 L544.0,315.1 L544.6,315.1 L545.2,315.1 L545.8,315.1 L546.4,315.1 L547.0,315.1 L547.6,315.1 L548.2,315.1 L548.8,315.1 L549.4,315.1 L550.0,315.1 L550.6,315.1 L551.2,315.1 L551.8,315.1 L552.4,315.1 L553.0,315.1 L553.6,315.1 L554.2,315.1 L554.8,315.1 L555.4,315.1 L556.0,315.1 L556.6,315.1 L557.2,315.1 L557.8,315.1 L558.4,315.1 L559.0,315.1 L559.6,315.1 L560.2,315.1 L560.8,315.1 L561.4,315.1 L562.0,315.1 L562.6,315.1 L563.2,315.1 L563.8,315.1 L564.4,315.1 L565.0,315.1 L565.6,315.1 L566.2,315.1 L566.8,315.1 L567.4,315.1 L568.0,315.1 L568.6,315.1 L569.2,315.1 L569.8,315.1 L570.4,315.2 L571.0,315.2 L571.6,315.2 L572.2,315.2 L572.8,315.2 L573.4,315.2 L574.0,315.2 L574.6,315.2 L575.2,315.2 L575.8,315.2 L576.4,315.2 L577.0,315.2 L577.6,315.2 L578.2,315.2 L578.8,315.2 L579.4,315.2 L580.0,315.2 L580.6,315.2 L581.2,315.2 L581.8,315.2 L582.4,315.2 L583.0,315.2 L583.6,315.2 L584.2,315.2 L584.8,315.2 L585.4,315.2 L586.0,315.2 L586.6,315.2 L587.2,315.2 L587.8,315.2 L588.4,315.2 L589.0,315.2 L589.6,315.2 L590.2,315.2 L590.8,315.2 L591.4,315.2 L592.0,315.2 L592.6,315.2 L593.2,315.2 L593.8,315.2 L594.4,315.2 L595.0,315.2 L595.6,315.2 L596.2,315.2 L596.8,315.2 L597.4,315.2 L598.0,315.2 L598.6,315.2 L599.2,315.2 L599.8,315.2 L600.4,315.2 L601.0,315.2 L601.6,315.2 L602.2,315.2 L602.8,315.2 L603.4,315.2 L604.0,315.2 L604.6,315.2 L605.2,315.2 L605.8,315.2 L606.4,315.2 L607.0,315.2 L607.6,315.2 L608.2,315.2 L608.8,315.2 L609.4,315.2 L610.0,315.2 L610.6,315.2 L611.2,315.2 L611.8,315.2 L612.4,315.2 L613.0,315.2 L613.6,315.2 L614.2,315.2 L614.8,315.2 L615.4,315.2 L616.0,315.2 L616.6,315.2 L617.2,315.2 L617.8,315.2 L618.4,315.2 L619.0,315.2 L619.6,315.2 L620.2,315.2 L620.8,315.2 L621.4,315.2 L622.0,315.2 L622.6,315.2 L623.2,315.2 L623.8,315.2 L624.4,315.2 L625.0,315.2 L625.6,315.2 L626.2,315.2 L626.8,315.2 L627.4,315.2 L628.0,315.2 L628.6,315.2 L629.2,315.2 L629.8,315.2 L630.4,315.2 L631.0,315.3 L631.6,315.3 L632.2,315.3 L632.8,315.3 L633.4,315.3 L634.0,315.3 L634.6,315.3 L635.2,315.3 L635.8,315.3 L636.4,315.3 L637.0,315.3 L637.6,315.3 L638.2,315.3 L638.8,315.3 L639.4,315.3 L640.0,315.3 L640.6,315.3 L641.2,315.3 L641.8,315.3 L642.4,315.3 L643.0,315.3 L643.6,315.3 L644.2,315.3 L644.8,315.3 L645.4,315.3 L646.0,315.3 L646.6,315.3 L647.2,315.3 L647.8,315.3 L648.4,315.3 L649.0,315.3 L649.6,315.3 L650.2,315.3 L650.8,315.3 L651.4,315.3 L652.0,315.3 L652.6,315.3 L653.2,315.3 L653.8,315.3 L654.4,315.3 L655.0,315.3 L655.6,315.3 L656.2,315.3 L656.8,315.3 L657.4,315.3 L658.0,315.3 L658.6,315.3 L659.2,315.4 L659.8,315.4 L660.4,315.4 L661.0,315.4 L661.6,315.4 L662.2,315.4 L662.8,315.4 L663.4,315.4 L664.0,315.4 L664.6,315.4 L665.2,315.4 L665.8,315.4 L666.4,315.4 L667.0,315.4 L667.6,315.4 L668.2,315.4 L668.8,315.4 L669.4,315.4 L670.0,315.4 L670.6,315.4 L671.2,315.4 L671.8,315.4 L672.4,315.4 L673.0,315.4 L673.6,315.5 L674.2,315.5 L674.8,315.5 L675.4,315.5 L676.0,315.5 L676.6,315.5 L677.2,315.5 L677.8,315.5 L678.4,315.5 L679.0,315.5 L679.6,315.5 L680.2,315.5 L680.8,315.5 L681.4,315.5 L682.0,315.5 L682.6,315.5 L683.2,315.5 L683.8,315.5 L684.4,315.6 L685.0,315.6 L685.6,315.6 L686.2,315.6 L686.8,315.6 L687.4,315.6 L688.0,315.6 L688.6,315.6 L689.2,315.7 L689.8,315.8 L690.4,316.0 L691.0,316.2 L691.6,316.4 L692.2,316.7 L692.8,316.9 L693.4,317.2 L694.0,317.5 L694.6,317.8 L695.2,318.1 L695.8,318.4 L696.4,318.7 L697.0,319.0 L697.6,319.3 L698.2,319.6 L698.8,320.0 L699.4,320.4 L700.0,320.7 L700.6,321.1 L701.2,321.4 L701.8,321.7 L702.4,321.9 L703.0,322.0 L703.6,322.0 L704.2,321.9 L704.8,321.7 L705.4,321.5 L706.0,321.2 L706.6,320.9 L707.2,320.6 L707.8,320.3 L708.4,320.1 L709.0,319.8 L709.6,319.7 L710.2,319.6 L710.8,319.5 L711.4,319.4 L712.0,319.3 L712.6,319.2 L713.2,319.1 L713.8,319.1 L714.4,319.0 L715.0,319.0 L715.6,318.9 L716.2,318.9 L716.8,318.9 L717.4,318.9 L718.0,318.9 L718.6,319.0 L719.2,319.1 L719.8,319.1 L720.4,319.3 L721.0,319.4 L721.6,319.5 L722.2,319.6 L722.8,319.7 L723.4,319.8 L724.0,319.9 L724.6,319.9 L725.2,320.0 L725.8,320.0 L726.4,319.8 L727.0,319.5 L727.6,319.0 L728.2,318.4 L728.8,317.8 L729.4,317.3 L730.0,316.8 L730.6,316.4 L731.2,316.1 L731.8,315.8 L732.4,315.5 L733.0,315.3 L733.6,315.1 L734.2,314.9 L734.8,314.8 L735.4,314.7 L736.0,314.7 L736.6,314.7 L737.2,314.7 L737.8,314.7 L738.4,314.7 L739.0,314.7 L739.6,314.7 L740.2,314.7 L740.8,314.7 L741.4,314.7 L742.0,314.7 L742.6,314.7 L743.2,314.7 L743.8,314.7 L744.4,314.7 L745.0,314.7 L745.6,314.7 L746.2,314.7 L746.8,314.7 L747.4,314.7 L748.0,314.7 L748.6,314.7 L749.2,314.7 L749.8,314.7 L750.4,314.7 L751.0,314.7 L751.6,314.8 L752.2,314.8 L752.8,314.8 L753.4,314.8 L754.0,314.8 L754.6,314.8 L755.2,314.8 L755.8,314.8 L756.4,314.8 L757.0,314.8 L757.6,314.8 L758.2,314.8 L758.8,314.8 L759.4,314.8 L760.0,314.8 L760.6,314.8 L761.2,314.8 L761.8,314.8 L762.4,314.8 L763.0,314.8 L763.6,314.8 L764.2,314.8 L764.8,314.8 L765.4,314.8 L766.0,314.9 L766.6,314.9 L767.2,314.9 L767.8,314.9 L768.4,314.9 L769.0,314.9 L769.6,314.9 L770.2,314.9 L770.8,314.9 L771.4,314.9 L772.0,314.9 L772.6,314.9 L773.2,314.9 L773.8,314.9 L774.4,314.9 L775.0,314.9 L775.6,314.9 L776.2,314.9 L776.8,314.9 L777.4,314.9 L778.0,314.9 L778.6,314.9 L779.2,314.9 L779.8,315.0 L780.4,315.0 L781.0,315.0 L781.6,315.0 L782.2,315.0 L782.8,315.0 L783.4,315.0 L784.0,315.0 L784.6,315.0 L785.2,315.0 L785.8,315.0 L786.4,315.0 L787.0,315.0 L787.6,315.0 L788.2,315.0 L788.8,315.0 L789.4,315.0 L790.0,315.0 L790.6,315.0 L791.2,315.0 L791.8,315.0 L792.4,315.0 L793.0,315.0 L793.6,315.0 L794.2,315.0 L794.8,315.0 L795.4,315.0 L796.0,315.0 L796.6,315.0 L797.2,315.0 L797.8,315.0 L798.4,315.0 L799.0,315.0 L799.6,315.0 L800.2,315.0 L800.8,315.0 L801.4,315.0 L802.0,315.0 L802.6,315.0 L803.2,315.0 L803.8,315.0 L804.4,315.0 L805.0,315.0 L805.6,315.0 L806.2,315.0 L806.8,315.1 L807.4,315.1 L808.0,315.1 L808.6,315.1 L809.2,315.1 L809.8,315.1 L810.4,315.1 L811.0,315.1 L811.6,315.1 L812.2,315.1 L812.8,315.1 L813.4,315.1 L814.0,315.1 L814.6,315.1 L815.2,315.1 L815.8,315.1 L816.4,315.1 L817.0,315.1 L817.6,315.1 L818.2,315.1 L818.8,315.1 L819.4,315.1 L820.0,315.1 L820.6,315.1 L821.2,315.1 L821.8,315.1 L822.4,315.1 L823.0,315.1 L823.6,315.1 L824.2,315.1 L824.8,315.1 L825.4,315.1 L826.0,315.1 L826.6,315.1 L827.2,315.1 L827.8,315.1 L828.4,315.1 L829.0,315.1 L829.6,315.1 L830.2,315.1 L830.8,315.1 L831.4,315.1 L832.0,315.1 L832.6,315.1 L833.2,315.1 L833.8,315.1 L834.4,315.1 L835.0,315.1 L835.6,315.1 L836.2,315.1 L836.8,315.1 L837.4,315.1 L838.0,315.1 L838.6,315.1 L839.2,315.1 L839.8,315.1 L840.4,315.1 L841.0,315.1 L841.6,315.1 L842.2,315.1 L842.8,315.1 L843.4,315.1 L844.0,315.1 L844.6,315.2 L845.2,315.2 L845.8,315.2 L846.4,315.2 L847.0,315.2 L847.6,315.2 L848.2,315.2 L848.8,315.2 L849.4,315.2 L850.0,315.2 L850.6,315.2 L851.2,315.2 L851.8,315.2 L852.4,315.2 L853.0,315.2 L853.6,315.2 L854.2,315.2 L854.8,315.2 L855.4,315.2 L856.0,315.2 L856.6,315.2 L857.2,315.2 L857.8,315.2 L858.4,315.2 L859.0,315.2 L859.6,315.2 L860.2,315.2 L860.8,315.2 L861.4,315.2 L862.0,315.2 L862.6,315.2 L863.2,315.2 L863.8,315.2 L864.4,315.2 L865.0,315.2 L865.6,315.2 L866.2,315.2 L866.8,315.2 L867.4,315.2 L868.0,315.2 L868.6,315.2 L869.2,315.2 L869.8,315.2 L870.4,315.2 L871.0,315.2 L871.6,315.2 L872.2,315.2 L872.8,315.2 L873.4,315.2 L874.0,315.2 L874.6,315.2 L875.2,315.2 L875.8,315.2 L876.4,315.2 L877.0,315.2 L877.6,315.2 L878.2,315.2 L878.8,315.2 L879.4,315.2 L880.0,315.2 L880.6,315.2 L881.2,315.2 L881.8,315.2 L882.4,315.2 L883.0,315.2 L883.6,315.2 L884.2,315.2 L884.8,315.2 L885.4,315.2 L886.0,315.2 L886.6,315.2 L887.2,315.2 L887.8,315.2" fill="none" stroke="#0000ff" stroke-width="7.7" stroke-linejoin="round" stroke-linecap="butt"/>
<path d="M82.1,383.0 L83.2,383.3 L83.8,383.7 L84.4,384.2 L85.0,384.6 L85.6,385.0 L86.2,385.4 L86.8,385.8 L87.4,386.2 L88.0,386.6 L88.6,386.9 L89.2,387.3 L89.8,387.7 L90.4,388.1 L91.0,388.5 L91.6,388.9 L92.2,389.4 L92.8,389.9 L93.4,390.4 L94.0,390.9 L94.6,391.3 L95.2,391.7 L95.8,392.1 L96.4,392.3 L97.0,392.6 L97.6,392.7 L98.2,392.7 L98.8,392.5 L99.4,392.2 L100.0,391.8 L100.6,391.2 L101.2,390.6 L101.8,390.0 L102.4,389.4 L103.0,388.9 L103.6,388.5 L104.2,388.2 L104.8,388.0 L105.4,387.8 L106.0,387.6 L106.6,387.5 L107.2,387.3 L107.8,387.2 L108.4,387.1 L109.0,387.0 L109.6,387.0 L110.2,386.9 L110.8,386.9 L111.4,387.0 L112.0,387.3 L112.6,387.7 L113.2,388.3 L113.8,389.0 L114.4,389.7 L115.0,390.5 L115.6,391.3 L116.2,392.0 L116.8,392.8 L117.4,393.4 L118.0,394.2 L118.6,395.1 L119.2,396.0 L119.8,396.8 L120.4,397.6 L121.0,398.1 L121.6,398.3 L122.2,398.2 L122.8,397.8 L123.4,397.2 L124.0,396.3 L124.6,395.4 L125.2,394.3 L125.8,393.3 L126.4,392.2 L127.0,391.3 L127.6,390.4 L128.2,389.5 L128.8,388.5 L129.4,387.5 L130.0,386.5 L130.6,385.6 L131.2,384.8 L131.8,384.2 L132.4,383.8 L133.0,383.7 L133.6,383.5 L134.2,383.4 L134.8,383.2 L135.4,383.1 L136.0,383.0 L136.6,382.9 L137.2,382.8 L137.8,382.7 L138.4,382.6 L139.0,382.6 L139.6,382.5 L140.2,382.5 L140.8,382.4 L141.4,382.4 L142.0,382.3 L142.6,382.3 L143.2,382.3 L143.8,382.3 L144.4,382.3 L145.0,382.3 L145.6,382.3 L146.2,382.3 L146.8,382.3 L147.4,382.3 L148.0,382.3 L148.6,382.3 L149.2,382.3 L149.8,382.3 L150.4,382.3 L151.0,382.3 L151.6,382.3 L152.2,382.3 L152.8,382.3 L153.4,382.3 L154.0,382.3 L154.6,382.3 L155.2,382.3 L155.8,382.3 L156.4,382.3 L157.0,382.3 L157.6,382.3 L158.2,382.3 L158.8,382.3 L159.4,382.3 L160.0,382.3 L160.6,382.4 L161.2,382.6 L161.8,382.7 L162.4,382.9 L163.0,383.1 L163.6,383.4 L164.2,383.6 L164.8,383.9 L165.4,384.1 L166.0,384.4 L166.6,384.6 L167.2,384.9 L167.8,385.1 L168.4,385.3 L169.0,385.4 L169.6,385.5 L170.2,385.6 L170.8,385.6 L171.4,385.5 L172.0,385.4 L172.6,385.2 L173.2,384.9 L173.8,384.7 L174.4,384.4 L175.0,384.0 L175.6,383.8 L176.2,383.5 L176.8,383.3 L177.4,383.1 L178.0,383.0 L178.6,383.1 L179.2,383.5 L179.8,384.3 L180.4,385.4 L181.0,386.5 L181.6,387.7 L182.2,389.0 L182.8,390.6 L183.4,392.4 L184.0,394.3 L184.6,396.4 L185.2,398.7 L185.8,401.5 L186.4,404.5 L187.0,407.3 L187.6,409.8 L188.2,412.1 L188.8,414.2 L189.4,414.9 L190.0,414.3 L190.6,413.1 L191.2,411.5 L191.8,409.9 L192.4,408.5 L193.0,407.4 L193.6,406.4 L194.2,405.4 L194.8,404.4 L195.4,403.3 L196.0,402.2 L196.6,400.7 L197.2,397.2 L197.8,390.4 L198.4,385.3 L199.0,384.1 L199.6,383.2 L200.2,382.6 L200.8,382.3 L201.4,382.3 L202.0,382.3 L202.6,382.3 L203.2,382.4 L203.8,382.4 L204.4,382.4 L205.0,382.5 L205.6,382.6 L206.2,382.6 L206.8,382.7 L207.4,382.8 L208.0,382.9 L208.6,383.0 L209.2,383.1 L209.8,383.3 L210.4,383.7 L211.0,384.1 L211.6,384.6 L212.2,385.2 L212.8,385.7 L213.4,386.3 L214.0,386.8 L214.6,387.3 L215.2,387.7 L215.8,388.0 L216.4,388.1 L217.0,388.1 L217.6,388.0 L218.2,387.8 L218.8,387.6 L219.4,387.3 L220.0,387.0 L220.6,386.8 L221.2,386.5 L221.8,386.2 L222.4,386.0 L223.0,385.8 L223.6,385.6 L224.2,385.6 L224.8,385.7 L225.4,385.9 L226.0,386.3 L226.6,386.9 L227.2,387.5 L227.8,388.2 L228.4,389.0 L229.0,389.8 L229.6,390.6 L230.2,391.5 L230.8,392.3 L231.4,393.3 L232.0,394.4 L232.6,395.7 L233.2,397.1 L233.8,398.4 L234.4,399.8 L235.0,401.0 L235.6,402.0 L236.2,403.0 L236.8,404.0 L237.4,405.0 L238.0,406.1 L238.6,407.0 L239.2,407.8 L239.8,408.5 L240.4,409.0 L241.0,409.3 L241.6,409.2 L242.2,408.5 L242.8,407.4 L243.4,406.0 L244.0,404.5 L244.6,403.1 L245.2,402.1 L245.8,401.6 L246.4,401.7 L247.0,402.0 L247.6,402.6 L248.2,403.2 L248.8,404.0 L249.4,404.8 L250.0,405.6 L250.6,406.4 L251.2,407.0 L251.8,407.5 L252.4,407.8 L253.0,408.1 L253.6,408.3 L254.2,408.5 L254.8,408.7 L255.4,408.8 L256.0,409.0 L256.6,409.1 L257.2,409.2 L257.8,409.3 L258.4,409.3 L259.0,409.2 L259.6,408.9 L260.2,408.4 L260.8,407.8 L261.4,406.9 L262.0,406.0 L262.6,405.0 L263.2,403.9 L263.8,402.9 L264.4,401.9 L265.0,400.9 L265.6,400.0 L266.2,399.0 L266.8,397.9 L267.4,396.8 L268.0,395.7 L268.6,394.6 L269.2,393.4 L269.8,392.3 L270.4,391.2 L271.0,390.1 L271.6,389.0 L272.2,387.8 L272.8,386.4 L273.4,385.2 L274.0,384.2 L274.6,383.8 L275.2,384.5 L275.8,387.0 L276.4,390.5 L277.0,394.2 L277.6,397.4 L278.2,399.3 L278.8,399.4 L279.4,397.7 L280.0,394.9 L280.6,391.6 L281.2,388.2 L281.8,385.3 L282.4,383.4 L283.0,383.0 L283.6,383.7 L284.2,384.9 L284.8,386.6 L285.4,388.6 L286.0,390.8 L286.6,393.0 L287.2,395.0 L287.8,396.6 L288.4,398.0 L289.0,399.4 L289.6,400.9 L290.2,402.3 L290.8,403.7 L291.4,405.1 L292.0,406.2 L292.6,407.2 L293.2,407.9 L293.8,408.4 L294.4,408.5 L295.0,407.8 L295.6,406.3 L296.2,404.3 L296.8,402.0 L297.4,399.6 L298.0,397.4 L298.6,395.3 L299.2,392.7 L299.8,390.0 L300.4,387.4 L301.0,385.4 L301.6,384.1 L302.2,383.8 L302.8,384.2 L303.4,384.9 L304.0,385.9 L304.6,386.9 L305.2,388.0 L305.8,388.9 L306.4,389.6 L307.0,389.9 L307.6,389.8 L308.2,389.3 L308.8,388.5 L309.4,387.6 L310.0,386.6 L310.6,385.6 L311.2,384.8 L311.8,384.1 L312.4,383.7 L313.0,383.4 L313.6,383.0 L314.2,382.8 L314.8,382.5 L315.4,382.3 L316.0,382.2 L316.6,382.2 L317.2,382.3 L317.8,382.5 L318.4,382.8 L319.0,383.2 L319.6,383.6 L320.2,384.0 L320.8,384.4 L321.4,384.8 L322.0,385.1 L322.6,385.4 L323.2,385.5 L323.8,385.4 L324.4,385.2 L325.0,384.7 L325.6,384.1 L326.2,383.6 L326.8,383.0 L327.4,382.5 L328.0,382.3 L328.6,382.2 L329.2,382.2 L329.8,382.2 L330.4,382.2 L331.0,382.2 L331.6,382.3 L332.2,382.3 L332.8,382.3 L333.4,382.3 L334.0,382.4 L334.6,382.4 L335.2,382.5 L335.8,382.5 L336.4,382.6 L337.0,382.6 L337.6,382.7 L338.2,382.8 L338.8,382.8 L339.4,382.9 L340.0,383.2 L340.6,383.7 L341.2,384.4 L341.8,385.2 L342.4,386.0 L343.0,386.8 L343.6,387.6 L344.2,388.3 L344.8,388.9 L345.4,389.5 L346.0,390.1 L346.6,390.6 L347.2,391.2 L347.8,391.6 L348.4,391.9 L349.0,392.0 L349.6,391.9 L350.2,391.6 L350.8,391.1 L351.4,390.6 L352.0,390.1 L352.6,389.6 L353.2,389.1 L353.8,388.8 L354.4,388.7 L355.0,388.9 L355.6,389.6 L356.2,390.6 L356.8,391.9 L357.4,393.4 L358.0,395.1 L358.6,397.7 L359.2,401.3 L359.8,405.8 L360.4,413.5 L361.0,416.8 L361.6,411.2 L362.2,404.0 L362.8,399.3 L363.4,395.2 L364.0,392.0 L364.6,388.8 L365.2,386.0 L365.8,384.0 L366.4,383.3 L367.0,383.1 L367.6,382.9 L368.2,382.7 L368.8,382.6 L369.4,382.5 L370.0,382.4 L370.6,382.3 L371.2,382.3 L371.8,382.2 L372.4,382.2 L373.0,382.2 L373.6,382.4 L374.2,382.7 L374.8,383.2 L375.4,383.7 L376.0,384.2 L376.6,384.8 L377.2,385.3 L377.8,385.6 L378.4,385.9 L379.0,385.9 L379.6,385.6 L380.2,385.1 L380.8,384.4 L381.4,383.9 L382.0,383.4 L382.6,383.3 L383.2,384.2 L383.8,385.9 L384.4,388.0 L385.0,389.8 L385.6,390.8 L386.2,390.7 L386.8,389.6 L387.4,388.0 L388.0,386.4 L388.6,385.0 L389.2,384.2 L389.8,383.7 L390.4,383.2 L391.0,382.9 L391.6,382.9 L392.2,382.8 L392.8,382.7 L393.4,382.7 L394.0,382.6 L394.6,382.6 L395.2,382.5 L395.8,382.5 L396.4,382.4 L397.0,382.4 L397.6,382.4 L398.2,382.3 L398.8,382.3 L399.4,382.3 L400.0,382.3 L400.6,382.3 L401.2,382.2 L401.8,382.2 L402.4,382.2 L403.0,382.2 L403.6,382.2 L404.2,382.2 L404.8,382.2 L405.4,382.2 L406.0,382.2 L406.6,382.3 L407.2,382.4 L407.8,382.6 L408.4,382.7 L409.0,382.9 L409.6,383.1 L410.2,383.2 L410.8,383.4 L411.4,383.6 L412.0,383.7 L412.6,383.8 L413.2,383.9 L413.8,383.9 L414.4,383.9 L415.0,383.7 L415.6,383.5 L416.2,383.3 L416.8,383.0 L417.4,382.7 L418.0,382.4 L418.6,382.2 L419.2,382.0 L419.8,381.9 L420.4,381.8 L421.0,381.9 L421.6,382.3 L422.2,382.8 L422.8,383.3 L423.4,384.0 L424.0,384.5 L424.6,385.0 L425.2,385.4 L425.8,385.5 L426.4,385.5 L427.0,385.5 L427.6,385.5 L428.2,385.5 L428.8,385.4 L429.4,385.4 L430.0,385.4 L430.6,385.4 L431.2,385.3 L431.8,385.3 L432.4,385.3 L433.0,385.2 L433.6,385.2 L434.2,385.1 L434.8,385.1 L435.4,385.1 L436.0,385.0 L436.6,385.0 L437.2,384.9 L437.8,384.9 L438.4,384.9 L439.0,384.8 L439.6,384.8 L440.2,384.8 L440.8,384.8 L441.4,384.7 L442.0,384.7 L442.6,384.7 L443.2,384.7 L443.8,384.6 L444.4,384.6 L445.0,384.6 L445.6,384.6 L446.2,384.5 L446.8,384.5 L447.4,384.5 L448.0,384.5 L448.6,384.5 L449.2,384.4 L449.8,384.4 L450.4,384.4 L451.0,384.4 L451.6,384.3 L452.2,384.3 L452.8,384.3 L453.4,384.3 L454.0,384.2 L454.6,384.2 L455.2,384.2 L455.8,384.2 L456.4,384.2 L457.0,384.1 L457.6,384.1 L458.2,384.1 L458.8,384.1 L459.4,384.1 L460.0,384.0 L460.6,384.0 L461.2,384.0 L461.8,384.0 L462.4,384.0 L463.0,383.9 L463.6,383.9 L464.2,383.9 L464.8,383.9 L465.4,383.8 L466.0,383.8 L466.6,383.8 L467.2,383.8 L467.8,383.8 L468.4,383.7 L469.0,383.7 L469.6,383.7 L470.2,383.7 L470.8,383.7 L471.4,383.6 L472.0,383.6 L472.6,383.6 L473.2,383.6 L473.8,383.5 L474.4,383.5 L475.0,383.5 L475.6,383.5 L476.2,383.5 L476.8,383.4 L477.4,383.4 L478.0,383.4 L478.6,383.4 L479.2,383.3 L479.8,383.3 L480.4,383.3 L481.0,383.2 L481.6,383.2 L482.2,383.2 L482.8,383.2 L483.4,383.1 L484.0,383.1 L484.6,383.1 L485.2,383.0 L485.8,383.0 L486.4,383.0 L487.0,383.0 L487.6,382.9 L488.2,382.9 L488.8,382.9 L489.4,382.8 L490.0,382.8 L490.6,382.8 L491.2,382.7 L491.8,382.7 L492.4,382.7 L493.0,382.7 L493.6,382.6 L494.2,382.6 L494.8,382.6 L495.4,382.6 L496.0,382.5 L496.6,382.5 L497.2,382.5 L497.8,382.5 L498.4,382.4 L499.0,382.4 L499.6,382.4 L500.2,382.4 L500.8,382.4 L501.4,382.3 L502.0,382.3 L502.6,382.3 L503.2,382.3 L503.8,382.3 L504.4,382.3 L505.0,382.2 L505.6,382.2 L506.2,382.2 L506.8,382.2 L507.4,382.2 L508.0,382.2 L508.6,382.2 L509.2,382.2 L509.8,382.2 L510.4,382.2 L511.0,382.2 L511.6,382.2 L512.2,382.2 L512.8,382.2 L513.4,382.2 L514.0,382.2 L514.6,382.2 L515.2,382.2 L515.8,382.2 L516.4,382.2 L517.0,382.2 L517.6,382.2 L518.2,382.2 L518.8,382.2 L519.4,382.2 L520.0,382.2 L520.6,382.2 L521.2,382.2 L521.8,382.2 L522.4,382.2 L523.0,382.2 L523.6,382.2 L524.2,382.2 L524.8,382.2 L525.4,382.2 L526.0,382.2 L526.6,382.2 L527.2,382.2 L527.8,382.2 L528.4,382.2 L529.0,382.2 L529.6,382.2 L530.2,382.2 L530.8,382.2 L531.4,382.2 L532.0,382.2 L532.6,382.2 L533.2,382.2 L533.8,382.2 L534.4,382.2 L535.0,382.2 L535.6,382.2 L536.2,382.2 L536.8,382.2 L537.4,382.2 L538.0,382.2 L538.6,382.2 L539.2,382.2 L539.8,382.2 L540.4,382.2 L541.0,382.2 L541.6,382.2 L542.2,382.2 L542.8,382.2 L543.4,382.2 L544.0,382.2 L544.6,382.2 L545.2,382.2 L545.8,382.2 L546.4,382.2 L547.0,382.2 L547.6,382.2 L548.2,382.2 L548.8,382.2 L549.4,382.2 L550.0,382.2 L550.6,382.2 L551.2,382.2 L551.8,382.2 L552.4,382.2 L553.0,382.2 L553.6,382.2 L554.2,382.2 L554.8,382.2 L555.4,382.2 L556.0,382.2 L556.6,382.2 L557.2,382.2 L557.8,382.2 L558.4,382.2 L559.0,382.2 L559.6,382.2 L560.2,382.2 L560.8,382.2 L561.4,382.2 L562.0,382.2 L562.6,382.2 L563.2,382.2 L563.8,382.2 L564.4,382.2 L565.0,382.2 L565.6,382.2 L566.2,382.2 L566.8,382.2 L567.4,382.2 L568.0,382.2 L568.6,382.2 L569.2,382.2 L569.8,382.2 L570.4,382.2 L571.0,382.2 L571.6,382.2 L572.2,382.2 L572.8,382.2 L573.4,382.2 L574.0,382.2 L574.6,382.2 L575.2,382.2 L575.8,382.2 L576.4,382.2 L577.0,382.2 L577.6,382.2 L578.2,382.2 L578.8,382.2 L579.4,382.2 L580.0,382.2 L580.6,382.2 L581.2,382.2 L581.8,382.2 L582.4,382.2 L583.0,382.2 L583.6,382.2 L584.2,382.2 L584.8,382.2 L585.4,382.2 L586.0,382.2 L586.6,382.2 L587.2,382.2 L587.8,382.2 L588.4,382.2 L589.0,382.2 L589.6,382.2 L590.2,382.2 L590.8,382.2 L591.4,382.2 L592.0,382.2 L592.6,382.2 L593.2,382.2 L593.8,382.2 L594.4,382.2 L595.0,382.2 L595.6,382.2 L596.2,382.2 L596.8,382.2 L597.4,382.2 L598.0,382.2 L598.6,382.2 L599.2,382.2 L599.8,382.2 L600.4,382.2 L601.0,382.2 L601.6,382.2 L602.2,382.2 L602.8,382.2 L603.4,382.2 L604.0,382.2 L604.6,382.2 L605.2,382.2 L605.8,382.2 L606.4,382.2 L607.0,382.2 L607.6,382.2 L608.2,382.2 L608.8,382.2 L609.4,382.2 L610.0,382.2 L610.6,382.2 L611.2,382.2 L611.8,382.2 L612.4,382.2 L613.0,382.2 L613.6,382.2 L614.2,382.2 L614.8,382.2 L615.4,382.2 L616.0,382.2 L616.6,382.2 L617.2,382.2 L617.8,382.2 L618.4,382.2 L619.0,382.2 L619.6,382.2 L620.2,382.2 L620.8,382.2 L621.4,382.2 L622.0,382.2 L622.6,382.2 L623.2,382.2 L623.8,382.2 L624.4,382.2 L625.0,382.2 L625.6,382.2 L626.2,382.2 L626.8,382.2 L627.4,382.2 L628.0,382.2 L628.6,382.2 L629.2,382.2 L629.8,382.2 L630.4,382.2 L631.0,382.2 L631.6,382.2 L632.2,382.2 L632.8,382.2 L633.4,382.2 L634.0,382.2 L634.6,382.2 L635.2,382.2 L635.8,382.2 L636.4,382.2 L637.0,382.2 L637.6,382.2 L638.2,382.2 L638.8,382.2 L639.4,382.2 L640.0,382.3 L640.6,382.3 L641.2,382.3 L641.8,382.3 L642.4,382.3 L643.0,382.3 L643.6,382.3 L644.2,382.3 L644.8,382.3 L645.4,382.3 L646.0,382.3 L646.6,382.3 L647.2,382.3 L647.8,382.3 L648.4,382.3 L649.0,382.3 L649.6,382.3 L650.2,382.3 L650.8,382.3 L651.4,382.3 L652.0,382.3 L652.6,382.3 L653.2,382.3 L653.8,382.3 L654.4,382.3 L655.0,382.3 L655.6,382.3 L656.2,382.3 L656.8,382.3 L657.4,382.3 L658.0,382.3 L658.6,382.3 L659.2,382.3 L659.8,382.3 L660.4,382.3 L661.0,382.4 L661.6,382.4 L662.2,382.4 L662.8,382.4 L663.4,382.4 L664.0,382.4 L664.6,382.4 L665.2,382.4 L665.8,382.4 L666.4,382.4 L667.0,382.4 L667.6,382.4 L668.2,382.4 L668.8,382.4 L669.4,382.4 L670.0,382.4 L670.6,382.4 L671.2,382.4 L671.8,382.4 L672.4,382.4 L673.0,382.4 L673.6,382.4 L674.2,382.5 L674.8,382.5 L675.4,382.5 L676.0,382.5 L676.6,382.5 L677.2,382.5 L677.8,382.5 L678.4,382.5 L679.0,382.5 L679.6,382.5 L680.2,382.5 L680.8,382.5 L681.4,382.5 L682.0,382.5 L682.6,382.5 L683.2,382.5 L683.8,382.5 L684.4,382.6 L685.0,382.6 L685.6,382.6 L686.2,382.6 L686.8,382.6 L687.4,382.6 L688.0,382.6 L688.6,382.6 L689.2,382.7 L689.8,382.8 L690.4,383.0 L691.0,383.2 L691.6,383.4 L692.2,383.6 L692.8,383.9 L693.4,384.2 L694.0,384.5 L694.6,384.8 L695.2,385.1 L695.8,385.4 L696.4,385.7 L697.0,386.0 L697.6,386.3 L698.2,386.7 L698.8,387.1 L699.4,387.5 L700.0,388.0 L700.6,388.4 L701.2,388.7 L701.8,389.0 L702.4,389.3 L703.0,389.4 L703.6,389.4 L704.2,389.3 L704.8,389.1 L705.4,388.9 L706.0,388.7 L706.6,388.4 L707.2,388.1 L707.8,387.8 L708.4,387.5 L709.0,387.3 L709.6,387.1 L710.2,386.9 L710.8,386.8 L711.4,386.7 L712.0,386.5 L712.6,386.4 L713.2,386.3 L713.8,386.1 L714.4,386.0 L715.0,386.0 L715.6,385.9 L716.2,385.8 L716.8,385.8 L717.4,385.8 L718.0,385.8 L718.6,385.9 L719.2,386.0 L719.8,386.1 L720.4,386.2 L721.0,386.3 L721.6,386.4 L722.2,386.6 L722.8,386.7 L723.4,386.8 L724.0,386.9 L724.6,386.9 L725.2,387.0 L725.8,387.0 L726.4,386.9 L727.0,386.6 L727.6,386.2 L728.2,385.7 L728.8,385.2 L729.4,384.6 L730.0,384.1 L730.6,383.6 L731.2,383.2 L731.8,382.9 L732.4,382.7 L733.0,382.5 L733.6,382.3 L734.2,382.1 L734.8,382.0 L735.4,381.9 L736.0,381.9 L736.6,381.9 L737.2,381.9 L737.8,381.9 L738.4,381.9 L739.0,381.9 L739.6,381.9 L740.2,381.9 L740.8,381.9 L741.4,381.9 L742.0,381.9 L742.6,381.9 L743.2,381.9 L743.8,381.9 L744.4,381.9 L745.0,381.9 L745.6,381.9 L746.2,381.9 L746.8,381.9 L747.4,381.9 L748.0,381.9 L748.6,381.9 L749.2,381.9 L749.8,381.9 L750.4,381.9 L751.0,381.9 L751.6,381.9 L752.2,381.9 L752.8,381.9 L753.4,381.9 L754.0,381.9 L754.6,381.9 L755.2,381.9 L755.8,381.9 L756.4,381.9 L757.0,381.9 L757.6,381.9 L758.2,381.9 L758.8,381.9 L759.4,381.9 L760.0,381.9 L760.6,381.9 L761.2,381.9 L761.8,381.9 L762.4,381.9 L763.0,381.9 L763.6,381.9 L764.2,381.9 L764.8,381.9 L765.4,381.9 L766.0,381.9 L766.6,381.9 L767.2,382.0 L767.8,382.0 L768.4,382.0 L769.0,382.0 L769.6,382.0 L770.2,382.0 L770.8,382.0 L771.4,382.0 L772.0,382.0 L772.6,382.0 L773.2,382.0 L773.8,382.0 L774.4,382.0 L775.0,382.0 L775.6,382.0 L776.2,382.0 L776.8,382.0 L777.4,382.0 L778.0,382.0 L778.6,382.0 L779.2,382.0 L779.8,382.0 L780.4,382.0 L781.0,382.0 L781.6,382.0 L782.2,382.0 L782.8,382.0 L783.4,382.0 L784.0,382.0 L784.6,382.0 L785.2,382.0 L785.8,382.0 L786.4,382.0 L787.0,382.0 L787.6,382.0 L788.2,382.0 L788.8,382.0 L789.4,382.0 L790.0,382.0 L790.6,382.0 L791.2,382.0 L791.8,382.0 L792.4,382.0 L793.0,382.0 L793.6,382.0 L794.2,382.0 L794.8,382.0 L795.4,382.0 L796.0,382.0 L796.6,382.0 L797.2,382.0 L797.8,382.0 L798.4,382.0 L799.0,382.0 L799.6,382.0 L800.2,382.0 L800.8,382.0 L801.4,382.0 L802.0,382.0 L802.6,382.0 L803.2,382.0 L803.8,382.0 L804.4,382.0 L805.0,382.0 L805.6,382.0 L806.2,382.0 L806.8,382.0 L807.4,382.0 L808.0,382.0 L808.6,382.0 L809.2,382.0 L809.8,382.0 L810.4,382.0 L811.0,382.0 L811.6,382.0 L812.2,382.0 L812.8,382.0 L813.4,382.0 L814.0,382.0 L814.6,382.0 L815.2,382.0 L815.8,382.0 L816.4,382.0 L817.0,382.0 L817.6,382.0 L818.2,382.0 L818.8,382.0 L819.4,382.0 L820.0,382.0 L820.6,382.0 L821.2,382.0 L821.8,382.0 L822.4,382.0 L823.0,382.0 L823.6,382.0 L824.2,382.0 L824.8,382.0 L825.4,382.0 L826.0,382.0 L826.6,382.0 L827.2,382.0 L827.8,382.0 L828.4,382.0 L829.0,382.0 L829.6,382.1 L830.2,382.1 L830.8,382.1 L831.4,382.1 L832.0,382.1 L832.6,382.1 L833.2,382.1 L833.8,382.1 L834.4,382.1 L835.0,382.1 L835.6,382.1 L836.2,382.1 L836.8,382.1 L837.4,382.1 L838.0,382.1 L838.6,382.1 L839.2,382.1 L839.8,382.1 L840.4,382.1 L841.0,382.1 L841.6,382.1 L842.2,382.1 L842.8,382.1 L843.4,382.1 L844.0,382.1 L844.6,382.1 L845.2,382.1 L845.8,382.1 L846.4,382.1 L847.0,382.1 L847.6,382.1 L848.2,382.1 L848.8,382.1 L849.4,382.1 L850.0,382.1 L850.6,382.1 L851.2,382.1 L851.8,382.1 L852.4,382.1 L853.0,382.1 L853.6,382.1 L854.2,382.1 L854.8,382.1 L855.4,382.1 L856.0,382.1 L856.6,382.1 L857.2,382.1 L857.8,382.1 L858.4,382.1 L859.0,382.1 L859.6,382.1 L860.2,382.1 L860.8,382.1 L861.4,382.1 L862.0,382.1 L862.6,382.1 L863.2,382.1 L863.8,382.1 L864.4,382.1 L865.0,382.1 L865.6,382.1 L866.2,382.1 L866.8,382.1 L867.4,382.1 L868.0,382.1 L868.6,382.1 L869.2,382.1 L869.8,382.1 L870.4,382.1 L871.0,382.1 L871.6,382.1 L872.2,382.1 L872.8,382.1 L873.4,382.1 L874.0,382.1 L874.6,382.1 L875.2,382.1 L875.8,382.1 L876.4,382.1 L877.0,382.1 L877.6,382.1 L878.2,382.1 L878.8,382.1 L879.4,382.1 L880.0,382.1 L880.6,382.1 L881.2,382.1 L881.8,382.1 L882.4,382.1 L883.0,382.1 L883.6,382.1 L884.2,382.1 L884.8,382.1 L885.4,382.1 L886.0,382.1 L886.6,382.1 L887.2,382.1 L887.8,382.1" fill="none" stroke="#ff0000" stroke-width="7.7" stroke-linejoin="round" stroke-linecap="butt"/>
<path d="M82.1,444.2 L83.2,444.2 L83.8,444.3 L84.4,444.4 L85.0,444.5 L85.6,444.6 L86.2,444.7 L86.8,444.8 L87.4,445.0 L88.0,445.2 L88.6,445.4 L89.2,445.6 L89.8,446.0 L90.4,446.6 L91.0,447.5 L91.6,448.4 L92.2,449.5 L92.8,450.7 L93.4,451.9 L94.0,453.0 L94.6,454.2 L95.2,455.2 L95.8,456.2 L96.4,457.4 L97.0,458.5 L97.6,459.3 L98.2,459.5 L98.8,458.9 L99.4,458.0 L100.0,456.8 L100.6,455.7 L101.2,454.7 L101.8,453.6 L102.4,452.7 L103.0,452.0 L103.6,451.6 L104.2,451.2 L104.8,450.9 L105.4,450.6 L106.0,450.4 L106.6,450.2 L107.2,450.1 L107.8,450.0 L108.4,450.0 L109.0,450.0 L109.6,450.1 L110.2,450.2 L110.8,450.3 L111.4,450.4 L112.0,450.6 L112.6,450.9 L113.2,451.4 L113.8,452.2 L114.4,453.1 L115.0,454.1 L115.6,455.2 L116.2,456.4 L116.8,457.6 L117.4,459.0 L118.0,460.9 L118.6,463.3 L119.2,465.6 L119.8,467.7 L120.4,469.1 L121.0,469.7 L121.6,469.5 L122.2,469.1 L122.8,468.4 L123.4,467.6 L124.0,466.8 L124.6,465.8 L125.2,464.6 L125.8,463.1 L126.4,461.2 L127.0,459.2 L127.6,457.2 L128.2,455.2 L128.8,453.4 L129.4,451.8 L130.0,450.6 L130.6,449.6 L131.2,448.7 L131.8,447.8 L132.4,446.9 L133.0,446.2 L133.6,445.5 L134.2,444.8 L134.8,444.3 L135.4,443.9 L136.0,443.6 L136.6,443.4 L137.2,443.3 L137.8,443.1 L138.4,443.0 L139.0,442.9 L139.6,442.8 L140.2,442.7 L140.8,442.6 L141.4,442.5 L142.0,442.5 L142.6,442.4 L143.2,442.4 L143.8,442.4 L144.4,442.4 L145.0,442.4 L145.6,442.4 L146.2,442.4 L146.8,442.4 L147.4,442.4 L148.0,442.4 L148.6,442.5 L149.2,442.5 L149.8,442.5 L150.4,442.5 L151.0,442.5 L151.6,442.6 L152.2,442.6 L152.8,442.6 L153.4,442.7 L154.0,442.7 L154.6,442.7 L155.2,442.8 L155.8,442.8 L156.4,442.8 L157.0,442.9 L157.6,442.9 L158.2,442.9 L158.8,443.0 L159.4,443.0 L160.0,443.1 L160.6,443.2 L161.2,443.3 L161.8,443.4 L162.4,443.5 L163.0,443.6 L163.6,443.7 L164.2,443.9 L164.8,444.0 L165.4,444.2 L166.0,444.4 L166.6,444.6 L167.2,444.7 L167.8,444.9 L168.4,445.2 L169.0,445.5 L169.6,445.8 L170.2,446.2 L170.8,446.6 L171.4,447.0 L172.0,447.3 L172.6,447.5 L173.2,447.5 L173.8,447.3 L174.4,446.9 L175.0,446.4 L175.6,445.9 L176.2,445.3 L176.8,444.8 L177.4,444.5 L178.0,444.2 L178.6,444.3 L179.2,445.2 L179.8,446.8 L180.4,448.7 L181.0,450.6 L181.6,452.3 L182.2,453.7 L182.8,455.0 L183.4,456.5 L184.0,458.2 L184.6,460.4 L185.2,463.4 L185.8,467.4 L186.4,472.0 L187.0,477.0 L187.6,483.4 L188.2,490.7 L188.8,497.2 L189.4,502.6 L190.0,500.8 L190.6,495.0 L191.2,482.2 L191.8,464.3 L192.4,453.5 L193.0,450.2 L193.6,448.1 L194.2,447.0 L194.8,446.3 L195.4,445.8 L196.0,445.3 L196.6,445.0 L197.2,444.7 L197.8,444.4 L198.4,444.2 L199.0,444.0 L199.6,443.8 L200.2,443.6 L200.8,443.5 L201.4,443.3 L202.0,443.2 L202.6,443.0 L203.2,442.9 L203.8,442.8 L204.4,442.7 L205.0,442.6 L205.6,442.5 L206.2,442.5 L206.8,442.4 L207.4,442.4 L208.0,442.4 L208.6,442.7 L209.2,443.1 L209.8,443.6 L210.4,444.2 L211.0,444.8 L211.6,445.5 L212.2,446.2 L212.8,446.8 L213.4,447.4 L214.0,448.1 L214.6,448.9 L215.2,449.7 L215.8,450.5 L216.4,451.2 L217.0,451.6 L217.6,451.9 L218.2,451.9 L218.8,451.7 L219.4,451.5 L220.0,451.2 L220.6,450.8 L221.2,450.4 L221.8,450.0 L222.4,449.7 L223.0,449.5 L223.6,449.3 L224.2,449.3 L224.8,449.6 L225.4,450.2 L226.0,451.0 L226.6,452.1 L227.2,453.3 L227.8,454.6 L228.4,455.9 L229.0,457.3 L229.6,458.7 L230.2,460.3 L230.8,462.2 L231.4,464.3 L232.0,466.5 L232.6,468.8 L233.2,471.2 L233.8,473.6 L234.4,476.0 L235.0,478.6 L235.6,481.6 L236.2,484.6 L236.8,487.5 L237.4,490.0 L238.0,492.0 L238.6,493.6 L239.2,495.2 L239.8,496.6 L240.4,497.6 L241.0,498.2 L241.6,498.1 L242.2,497.0 L242.8,495.0 L243.4,492.5 L244.0,489.8 L244.6,487.2 L245.2,485.1 L245.8,483.8 L246.4,483.5 L247.0,484.0 L247.6,485.0 L248.2,486.2 L248.8,487.5 L249.4,488.8 L250.0,490.1 L250.6,491.8 L251.2,493.7 L251.8,495.5 L252.4,497.0 L253.0,498.1 L253.6,498.4 L254.2,498.4 L254.8,498.5 L255.4,498.5 L256.0,498.5 L256.6,498.5 L257.2,498.6 L257.8,498.6 L258.4,498.6 L259.0,498.6 L259.6,498.6 L260.2,498.6 L260.8,497.9 L261.4,496.6 L262.0,494.8 L262.6,492.7 L263.2,490.4 L263.8,488.0 L264.4,485.7 L265.0,483.7 L265.6,481.9 L266.2,480.1 L266.8,478.3 L267.4,476.6 L268.0,474.8 L268.6,472.9 L269.2,471.0 L269.8,469.0 L270.4,466.9 L271.0,464.6 L271.6,462.1 L272.2,458.5 L272.8,454.3 L273.4,450.2 L274.0,447.0 L274.6,445.5 L275.2,446.9 L275.8,451.7 L276.4,458.4 L277.0,465.5 L277.6,471.7 L278.2,475.5 L278.8,475.6 L279.4,472.4 L280.0,467.1 L280.6,460.7 L281.2,454.1 L281.8,448.6 L282.4,445.0 L283.0,444.3 L283.6,445.5 L284.2,447.9 L284.8,451.1 L285.4,455.0 L286.0,459.1 L286.6,463.2 L287.2,467.0 L287.8,470.1 L288.4,472.6 L289.0,475.2 L289.6,477.8 L290.2,480.5 L290.8,483.0 L291.4,485.3 L292.0,487.4 L292.6,489.1 L293.2,490.4 L293.8,491.2 L294.4,491.4 L295.0,490.1 L295.6,487.2 L296.2,483.4 L296.8,479.0 L297.4,474.7 L298.0,471.0 L298.6,467.4 L299.2,463.2 L299.8,459.0 L300.4,454.8 L301.0,451.3 L301.6,448.5 L302.2,447.0 L302.8,446.9 L303.4,447.9 L304.0,449.4 L304.6,451.4 L305.2,453.4 L305.8,455.2 L306.4,456.5 L307.0,457.0 L307.6,456.6 L308.2,455.5 L308.8,453.8 L309.4,452.0 L310.0,450.0 L310.6,448.1 L311.2,446.6 L311.8,445.7 L312.4,445.3 L313.0,444.9 L313.6,444.6 L314.2,444.4 L314.8,444.1 L315.4,443.9 L316.0,443.8 L316.6,443.6 L317.2,443.5 L317.8,443.5 L318.4,443.6 L319.0,443.9 L319.6,444.4 L320.2,445.0 L320.8,445.7 L321.4,446.5 L322.0,447.1 L322.6,447.6 L323.2,447.9 L323.8,448.0 L324.4,447.7 L325.0,447.2 L325.6,446.5 L326.2,445.7 L326.8,444.9 L327.4,444.2 L328.0,443.7 L328.6,443.5 L329.2,443.5 L329.8,443.5 L330.4,443.5 L331.0,443.5 L331.6,443.5 L332.2,443.5 L332.8,443.6 L333.4,443.6 L334.0,443.6 L334.6,443.6 L335.2,443.7 L335.8,443.7 L336.4,443.8 L337.0,443.8 L337.6,443.9 L338.2,443.9 L338.8,444.0 L339.4,444.0 L340.0,444.1 L340.6,444.2 L341.2,444.7 L341.8,445.8 L342.4,447.4 L343.0,449.2 L343.6,451.0 L344.2,452.6 L344.8,453.8 L345.4,455.2 L346.0,456.5 L346.6,457.8 L347.2,458.8 L347.8,459.4 L348.4,459.5 L349.0,459.2 L349.6,458.7 L350.2,458.0 L350.8,457.2 L351.4,456.3 L352.0,455.3 L352.6,454.5 L353.2,453.8 L353.8,453.3 L354.4,453.0 L355.0,453.1 L355.6,453.8 L356.2,454.8 L356.8,456.2 L357.4,457.7 L358.0,459.4 L358.6,461.6 L359.2,465.0 L359.8,470.0 L360.4,487.3 L361.0,500.5 L361.6,487.3 L362.2,470.0 L362.8,463.5 L363.4,459.0 L364.0,455.9 L364.6,453.3 L365.2,450.9 L365.8,448.8 L366.4,447.1 L367.0,445.9 L367.6,445.3 L368.2,444.9 L368.8,444.5 L369.4,444.2 L370.0,443.9 L370.6,443.6 L371.2,443.4 L371.8,443.2 L372.4,443.1 L373.0,443.0 L373.6,443.0 L374.2,443.1 L374.8,443.3 L375.4,443.7 L376.0,444.2 L376.6,444.7 L377.2,445.1 L377.8,445.5 L378.4,445.8 L379.0,445.8 L379.6,445.6 L380.2,445.4 L380.8,445.1 L381.4,444.8 L382.0,444.6 L382.6,444.6 L383.2,447.5 L383.8,451.9 L384.4,454.9 L385.0,457.8 L385.6,459.8 L386.2,460.2 L386.8,459.1 L387.4,457.1 L388.0,454.8 L388.6,452.7 L389.2,450.2 L389.8,447.5 L390.4,445.3 L391.0,444.2 L391.6,443.9 L392.2,443.7 L392.8,443.4 L393.4,443.2 L394.0,443.0 L394.6,442.9 L395.2,442.8 L395.8,442.6 L396.4,442.6 L397.0,442.5 L397.6,442.4 L398.2,442.4 L398.8,442.4 L399.4,442.4 L400.0,442.4 L400.6,442.4 L401.2,442.4 L401.8,442.4 L402.4,442.4 L403.0,442.4 L403.6,442.4 L404.2,442.4 L404.8,442.5 L405.4,442.5 L406.0,442.5 L406.6,442.5 L407.2,442.5 L407.8,442.5 L408.4,442.5 L409.0,442.6 L409.6,442.6 L410.2,442.6 L410.8,442.7 L411.4,442.9 L412.0,443.0 L412.6,443.3 L413.2,443.5 L413.8,443.6 L414.4,443.8 L415.0,443.8 L415.6,443.8 L416.2,443.6 L416.8,443.4 L417.4,443.2 L418.0,443.0 L418.6,442.8 L419.2,442.6 L419.8,442.4 L420.4,442.4 L421.0,442.5 L421.6,442.7 L422.2,443.1 L422.8,443.5 L423.4,443.9 L424.0,444.4 L424.6,444.8 L425.2,445.0 L425.8,445.2 L426.4,445.2 L427.0,445.2 L427.6,445.2 L428.2,445.2 L428.8,445.2 L429.4,445.2 L430.0,445.2 L430.6,445.1 L431.2,445.1 L431.8,445.1 L432.4,445.1 L433.0,445.1 L433.6,445.0 L434.2,445.0 L434.8,445.0 L435.4,445.0 L436.0,444.9 L436.6,444.9 L437.2,444.9 L437.8,444.9 L438.4,444.8 L439.0,444.8 L439.6,444.8 L440.2,444.8 L440.8,444.7 L441.4,444.7 L442.0,444.7 L442.6,444.6 L443.2,444.6 L443.8,444.6 L444.4,444.5 L445.0,444.5 L445.6,444.5 L446.2,444.5 L446.8,444.4 L447.4,444.4 L448.0,444.4 L448.6,444.4 L449.2,444.3 L449.8,444.3 L450.4,444.3 L451.0,444.3 L451.6,444.2 L452.2,444.2 L452.8,444.2 L453.4,444.2 L454.0,444.2 L454.6,444.1 L455.2,444.1 L455.8,444.1 L456.4,444.1 L457.0,444.0 L457.6,444.0 L458.2,444.0 L458.8,444.0 L459.4,443.9 L460.0,443.9 L460.6,443.9 L461.2,443.9 L461.8,443.9 L462.4,443.8 L463.0,443.8 L463.6,443.8 L464.2,443.8 L464.8,443.7 L465.4,443.7 L466.0,443.7 L466.6,443.7 L467.2,443.6 L467.8,443.6 L468.4,443.6 L469.0,443.6 L469.6,443.6 L470.2,443.5 L470.8,443.5 L471.4,443.5 L472.0,443.5 L472.6,443.4 L473.2,443.4 L473.8,443.4 L474.4,443.4 L475.0,443.3 L475.6,443.3 L476.2,443.3 L476.8,443.3 L477.4,443.3 L478.0,443.2 L478.6,443.2 L479.2,443.2 L479.8,443.2 L480.4,443.1 L481.0,443.1 L481.6,443.1 L482.2,443.1 L482.8,443.1 L483.4,443.0 L484.0,443.0 L484.6,443.0 L485.2,443.0 L485.8,443.0 L486.4,443.0 L487.0,442.9 L487.6,442.9 L488.2,442.9 L488.8,442.9 L489.4,442.9 L490.0,442.8 L490.6,442.8 L491.2,442.8 L491.8,442.8 L492.4,442.8 L493.0,442.8 L493.6,442.7 L494.2,442.7 L494.8,442.7 L495.4,442.7 L496.0,442.7 L496.6,442.7 L497.2,442.7 L497.8,442.6 L498.4,442.6 L499.0,442.6 L499.6,442.6 L500.2,442.6 L500.8,442.6 L501.4,442.6 L502.0,442.6 L502.6,442.6 L503.2,442.5 L503.8,442.5 L504.4,442.5 L505.0,442.5 L505.6,442.5 L506.2,442.5 L506.8,442.5 L507.4,442.5 L508.0,442.4 L508.6,442.4 L509.2,442.4 L509.8,442.4 L510.4,442.4 L511.0,442.4 L511.6,442.4 L512.2,442.4 L512.8,442.4 L513.4,442.3 L514.0,442.3 L514.6,442.3 L515.2,442.3 L515.8,442.3 L516.4,442.3 L517.0,442.3 L517.6,442.3 L518.2,442.3 L518.8,442.2 L519.4,442.2 L520.0,442.2 L520.6,442.2 L521.2,442.2 L521.8,442.2 L522.4,442.2 L523.0,442.2 L523.6,442.2 L524.2,442.2 L524.8,442.1 L525.4,442.1 L526.0,442.1 L526.6,442.1 L527.2,442.1 L527.8,442.1 L528.4,442.1 L529.0,442.1 L529.6,442.1 L530.2,442.1 L530.8,442.0 L531.4,442.0 L532.0,442.0 L532.6,442.0 L533.2,442.0 L533.8,442.0 L534.4,442.0 L535.0,442.0 L535.6,442.0 L536.2,442.0 L536.8,442.0 L537.4,441.9 L538.0,441.9 L538.6,441.9 L539.2,441.9 L539.8,441.9 L540.4,441.9 L541.0,441.9 L541.6,441.9 L542.2,441.9 L542.8,441.9 L543.4,441.9 L544.0,441.9 L544.6,441.9 L545.2,441.9 L545.8,441.8 L546.4,441.8 L547.0,441.8 L547.6,441.8 L548.2,441.8 L548.8,441.8 L549.4,441.8 L550.0,441.8 L550.6,441.8 L551.2,441.8 L551.8,441.8 L552.4,441.8 L553.0,441.8 L553.6,441.8 L554.2,441.8 L554.8,441.8 L555.4,441.8 L556.0,441.8 L556.6,441.7 L557.2,441.7 L557.8,441.7 L558.4,441.7 L559.0,441.7 L559.6,441.7 L560.2,441.7 L560.8,441.7 L561.4,441.7 L562.0,441.7 L562.6,441.7 L563.2,441.7 L563.8,441.7 L564.4,441.7 L565.0,441.7 L565.6,441.7 L566.2,441.7 L566.8,441.7 L567.4,441.7 L568.0,441.7 L568.6,441.7 L569.2,441.7 L569.8,441.7 L570.4,441.7 L571.0,441.7 L571.6,441.7 L572.2,441.7 L572.8,441.7 L573.4,441.7 L574.0,441.7 L574.6,441.7 L575.2,441.7 L575.8,441.7 L576.4,441.7 L577.0,441.7 L577.6,441.7 L578.2,441.7 L578.8,441.7 L579.4,441.7 L580.0,441.7 L580.6,441.7 L581.2,441.7 L581.8,441.8 L582.4,441.8 L583.0,441.8 L583.6,441.8 L584.2,441.8 L584.8,441.8 L585.4,441.8 L586.0,441.8 L586.6,441.8 L587.2,441.8 L587.8,441.8 L588.4,441.8 L589.0,441.8 L589.6,441.8 L590.2,441.8 L590.8,441.8 L591.4,441.9 L592.0,441.9 L592.6,441.9 L593.2,441.9 L593.8,441.9 L594.4,441.9 L595.0,441.9 L595.6,441.9 L596.2,441.9 L596.8,441.9 L597.4,441.9 L598.0,441.9 L598.6,442.0 L599.2,442.0 L599.8,442.0 L600.4,442.0 L601.0,442.0 L601.6,442.0 L602.2,442.0 L602.8,442.0 L603.4,442.0 L604.0,442.0 L604.6,442.0 L605.2,442.1 L605.8,442.1 L606.4,442.1 L607.0,442.1 L607.6,442.1 L608.2,442.1 L608.8,442.1 L609.4,442.1 L610.0,442.1 L610.6,442.1 L611.2,442.1 L611.8,442.2 L612.4,442.2 L613.0,442.2 L613.6,442.2 L614.2,442.2 L614.8,442.2 L615.4,442.2 L616.0,442.2 L616.6,442.2 L617.2,442.2 L617.8,442.2 L618.4,442.2 L619.0,442.2 L619.6,442.3 L620.2,442.3 L620.8,442.3 L621.4,442.3 L622.0,442.3 L622.6,442.3 L623.2,442.3 L623.8,442.3 L624.4,442.3 L625.0,442.3 L625.6,442.3 L626.2,442.3 L626.8,442.3 L627.4,442.3 L628.0,442.3 L628.6,442.4 L629.2,442.4 L629.8,442.4 L630.4,442.4 L631.0,442.4 L631.6,442.4 L632.2,442.4 L632.8,442.4 L633.4,442.4 L634.0,442.4 L634.6,442.4 L635.2,442.4 L635.8,442.4 L636.4,442.4 L637.0,442.4 L637.6,442.4 L638.2,442.4 L638.8,442.4 L639.4,442.4 L640.0,442.4 L640.6,442.4 L641.2,442.4 L641.8,442.4 L642.4,442.4 L643.0,442.4 L643.6,442.4 L644.2,442.4 L644.8,442.4 L645.4,442.4 L646.0,442.4 L646.6,442.4 L647.2,442.4 L647.8,442.4 L648.4,442.4 L649.0,442.4 L649.6,442.4 L650.2,442.4 L650.8,442.4 L651.4,442.4 L652.0,442.4 L652.6,442.4 L653.2,442.4 L653.8,442.4 L654.4,442.4 L655.0,442.4 L655.6,442.4 L656.2,442.4 L656.8,442.4 L657.4,442.4 L658.0,442.4 L658.6,442.4 L659.2,442.4 L659.8,442.4 L660.4,442.4 L661.0,442.4 L661.6,442.4 L662.2,442.4 L662.8,442.4 L663.4,442.4 L664.0,442.4 L664.6,442.4 L665.2,442.4 L665.8,442.4 L666.4,442.4 L667.0,442.4 L667.6,442.4 L668.2,442.4 L668.8,442.4 L669.4,442.4 L670.0,442.4 L670.6,442.4 L671.2,442.4 L671.8,442.4 L672.4,442.4 L673.0,442.4 L673.6,442.4 L674.2,442.4 L674.8,442.4 L675.4,442.4 L676.0,442.4 L676.6,442.4 L677.2,442.4 L677.8,442.4 L678.4,442.4 L679.0,442.4 L679.6,442.4 L680.2,442.4 L680.8,442.4 L681.4,442.4 L682.0,442.4 L682.6,442.4 L683.2,442.4 L683.8,442.4 L684.4,442.4 L685.0,442.4 L685.6,442.4 L686.2,442.4 L686.8,442.4 L687.4,442.4 L688.0,442.4 L688.6,442.4 L689.2,442.5 L689.8,442.6 L690.4,442.8 L691.0,443.1 L691.6,443.4 L692.2,443.7 L692.8,444.1 L693.4,444.5 L694.0,444.9 L694.6,445.4 L695.2,445.9 L695.8,446.6 L696.4,447.5 L697.0,448.5 L697.6,449.5 L698.2,450.6 L698.8,451.6 L699.4,452.4 L700.0,453.0 L700.6,453.5 L701.2,454.0 L701.8,454.4 L702.4,454.8 L703.0,455.1 L703.6,455.2 L704.2,455.1 L704.8,454.8 L705.4,454.4 L706.0,453.9 L706.6,453.4 L707.2,452.8 L707.8,452.4 L708.4,452.0 L709.0,451.9 L709.6,451.7 L710.2,451.6 L710.8,451.5 L711.4,451.4 L712.0,451.3 L712.6,451.3 L713.2,451.2 L713.8,451.1 L714.4,451.0 L715.0,451.0 L715.6,450.9 L716.2,450.8 L716.8,450.8 L717.4,450.7 L718.0,450.7 L718.6,450.7 L719.2,450.6 L719.8,450.6 L720.4,450.6 L721.0,450.6 L721.6,450.6 L722.2,450.6 L722.8,450.6 L723.4,450.6 L724.0,450.6 L724.6,450.6 L725.2,450.6 L725.8,450.6 L726.4,450.6 L727.0,450.6 L727.6,450.6 L728.2,450.5 L728.8,449.5 L729.4,447.9 L730.0,446.3 L730.6,445.4 L731.2,444.8 L731.8,444.3 L732.4,443.8 L733.0,443.3 L733.6,443.0 L734.2,442.7 L734.8,442.5 L735.4,442.4 L736.0,442.4 L736.6,442.4 L737.2,442.4 L737.8,442.5 L738.4,442.5 L739.0,442.5 L739.6,442.6 L740.2,442.6 L740.8,442.6 L741.4,442.7 L742.0,442.7 L742.6,442.7 L743.2,442.8 L743.8,442.8 L744.4,442.8 L745.0,442.8 L745.6,442.8 L746.2,442.8 L746.8,442.7 L747.4,442.7 L748.0,442.6 L748.6,442.6 L749.2,442.5 L749.8,442.4 L750.4,442.3 L751.0,442.3 L751.6,442.2 L752.2,442.1 L752.8,442.1 L753.4,442.0 L754.0,442.0 L754.6,442.0 L755.2,442.0 L755.8,442.0 L756.4,442.0 L757.0,442.0 L757.6,442.0 L758.2,442.0 L758.8,442.0 L759.4,442.0 L760.0,442.0 L760.6,442.0 L761.2,442.0 L761.8,442.0 L762.4,442.0 L763.0,442.0 L763.6,442.0 L764.2,442.0 L764.8,442.0 L765.4,442.0 L766.0,442.0 L766.6,442.0 L767.2,442.0 L767.8,442.0 L768.4,442.0 L769.0,442.0 L769.6,442.0 L770.2,442.0 L770.8,442.0 L771.4,442.0 L772.0,442.0 L772.6,442.0 L773.2,442.0 L773.8,442.0 L774.4,442.0 L775.0,442.0 L775.6,442.0 L776.2,442.0 L776.8,442.0 L777.4,442.0 L778.0,442.0 L778.6,442.0 L779.2,442.0 L779.8,442.0 L780.4,442.0 L781.0,442.0 L781.6,442.0 L782.2,442.0 L782.8,442.0 L783.4,442.0 L784.0,442.0 L784.6,442.0 L785.2,442.0 L785.8,442.0 L786.4,442.0 L787.0,442.0 L787.6,442.0 L788.2,442.0 L788.8,442.0 L789.4,442.0 L790.0,442.0 L790.6,442.0 L791.2,442.0 L791.8,442.0 L792.4,442.0 L793.0,442.0 L793.6,442.0 L794.2,442.0 L794.8,442.0 L795.4,442.0 L796.0,442.0 L796.6,442.0 L797.2,442.0 L797.8,442.0 L798.4,442.0 L799.0,442.0 L799.6,442.0 L800.2,442.0 L800.8,442.0 L801.4,442.0 L802.0,442.0 L802.6,442.0 L803.2,442.0 L803.8,442.0 L804.4,442.0 L805.0,442.0 L805.6,442.0 L806.2,442.0 L806.8,442.0 L807.4,442.0 L808.0,442.0 L808.6,442.0 L809.2,442.0 L809.8,442.0 L810.4,442.0 L811.0,442.0 L811.6,442.0 L812.2,442.0 L812.8,442.0 L813.4,442.0 L814.0,442.0 L814.6,442.0 L815.2,442.0 L815.8,442.0 L816.4,442.0 L817.0,442.0 L817.6,442.0 L818.2,442.0 L818.8,442.0 L819.4,442.0 L820.0,442.0 L820.6,442.0 L821.2,442.0 L821.8,442.0 L822.4,442.0 L823.0,442.0 L823.6,442.0 L824.2,442.0 L824.8,442.0 L825.4,442.0 L826.0,442.0 L826.6,442.0 L827.2,442.0 L827.8,442.0 L828.4,442.0 L829.0,442.0 L829.6,442.0 L830.2,442.0 L830.8,442.0 L831.4,442.0 L832.0,442.0 L832.6,442.0 L833.2,442.0 L833.8,442.0 L834.4,442.0 L835.0,442.0 L835.6,442.0 L836.2,442.0 L836.8,442.0 L837.4,442.0 L838.0,442.0 L838.6,442.0 L839.2,442.0 L839.8,442.0 L840.4,442.0 L841.0,442.0 L841.6,442.0 L842.2,442.0 L842.8,442.0 L843.4,442.0 L844.0,442.0 L844.6,442.0 L845.2,442.0 L845.8,442.0 L846.4,442.0 L847.0,442.0 L847.6,442.0 L848.2,442.0 L848.8,442.0 L849.4,442.0 L850.0,442.0 L850.6,442.0 L851.2,442.0 L851.8,442.0 L852.4,442.0 L853.0,442.0 L853.6,442.0 L854.2,442.0 L854.8,442.0 L855.4,442.0 L856.0,442.0 L856.6,442.0 L857.2,442.0 L857.8,442.0 L858.4,442.0 L859.0,442.0 L859.6,442.0 L860.2,442.0 L860.8,442.0 L861.4,442.0 L862.0,442.0 L862.6,442.0 L863.2,442.0 L863.8,442.0 L864.4,442.0 L865.0,442.0 L865.6,442.0 L866.2,442.0 L866.8,442.0 L867.4,442.0 L868.0,442.0 L868.6,442.0 L869.2,442.0 L869.8,442.0 L870.4,442.0 L871.0,442.0 L871.6,442.0 L872.2,442.0 L872.8,442.0 L873.4,442.0 L874.0,442.0 L874.6,442.0 L875.2,442.0 L875.8,442.0 L876.4,442.0 L877.0,442.0 L877.6,442.0 L878.2,442.0 L878.8,442.0 L879.4,442.0 L880.0,442.0 L880.6,442.0 L881.2,442.0 L881.8,442.0 L882.4,442.0 L883.0,442.0 L883.6,442.0 L884.2,442.0 L884.8,442.0 L885.4,442.0 L886.0,442.0 L886.6,442.0 L887.2,442.0 L887.8,442.0" fill="none" stroke="#000000" stroke-width="7.7" stroke-linejoin="round" stroke-linecap="butt"/>
<circle cx="428.1" cy="255.3" r="6.6" fill="#ff00ff"/>
<text transform="translate(82.2,663.5) scale(1,1.03)" font-size="37.2" stroke="#000" stroke-width="0.4" font-weight="bold" text-anchor="middle" font-family="'Liberation Sans', sans-serif">400</text>
<text transform="translate(182.8,663.5) scale(1,1.03)" font-size="37.2" stroke="#000" stroke-width="0.4" font-weight="bold" text-anchor="middle" font-family="'Liberation Sans', sans-serif">800</text>
<text transform="translate(283.4,663.5) scale(1,1.03)" font-size="37.2" stroke="#000" stroke-width="0.4" font-weight="bold" text-anchor="middle" font-family="'Liberation Sans', sans-serif">1200</text>
<text transform="translate(384.0,663.5) scale(1,1.03)" font-size="37.2" stroke="#000" stroke-width="0.4" font-weight="bold" text-anchor="middle" font-family="'Liberation Sans', sans-serif">1600</text>
<text transform="translate(484.6,663.5) scale(1,1.03)" font-size="37.2" stroke="#000" stroke-width="0.4" font-weight="bold" text-anchor="middle" font-family="'Liberation Sans', sans-serif">2000</text>
<text transform="translate(585.1,663.5) scale(1,1.03)" font-size="37.2" stroke="#000" stroke-width="0.4" font-weight="bold" text-anchor="middle" font-family="'Liberation Sans', sans-serif">2400</text>
<text transform="translate(685.7,663.5) scale(1,1.03)" font-size="37.2" stroke="#000" stroke-width="0.4" font-weight="bold" text-anchor="middle" font-family="'Liberation Sans', sans-serif">2800</text>
<text transform="translate(786.3,663.5) scale(1,1.03)" font-size="37.2" stroke="#000" stroke-width="0.4" font-weight="bold" text-anchor="middle" font-family="'Liberation Sans', sans-serif">3200</text>
<text transform="translate(886.9,663.5) scale(1,1.03)" font-size="37.2" stroke="#000" stroke-width="0.4" font-weight="bold" text-anchor="middle" font-family="'Liberation Sans', sans-serif">3600</text>
<text x="313.5" y="730.5" font-size="37.6" font-weight="bold" stroke="#000" stroke-width="0.4" font-family="'Liberation Sans', sans-serif">Wavenumber (cm<tspan x="626" y="709.6" font-size="21.5" stroke-width="0.3">-1</tspan><tspan x="645.9" y="730.5">)</tspan></text>
<text transform="translate(28.6,515.2) rotate(-90) scale(1,1.025)" font-size="38.6" stroke="#000" stroke-width="0.4" font-weight="bold" font-family="'Liberation Sans', sans-serif">Transmittance <tspan x="266.7" font-size="38.7" letter-spacing="0.93">(a.u.%)</tspan></text>
<text transform="translate(729.15,27.9) scale(1,1.035)" font-size="37.6" font-weight="bold" stroke="#000" stroke-width="0.4" font-family="'Liberation Sans', sans-serif">1 wt.%GFs</text>
<text transform="translate(736.9,128.2) scale(1,1.035)" font-size="37.6" font-weight="bold" stroke="#000" stroke-width="0.4" font-family="'Liberation Sans', sans-serif">0.5 wt.%GFs</text>
<text transform="translate(731.9,217.9) scale(1,1.035)" font-size="37.6" font-weight="bold" stroke="#000" stroke-width="0.4" font-family="'Liberation Sans', sans-serif">0.125 wt.%GFs</text>
<text transform="translate(735.8,294.4) scale(1,1.035)" font-size="37.6" font-weight="bold" stroke="#000" stroke-width="0.4" font-family="'Liberation Sans', sans-serif">0.125 wt.%GFs</text>
<text transform="translate(737.8,363.8) scale(1,1.035)" font-size="37.6" font-weight="bold" stroke="#000" stroke-width="0.4" font-family="'Liberation Sans', sans-serif">0.0625 wt.%GFs</text>
<text transform="translate(740.05,424.8) scale(1,1.0)" font-size="37.6" font-weight="bold" stroke="#000" stroke-width="0.4" font-family="'Liberation Sans', sans-serif">Unfilled epoxy</text>
<text transform="translate(127.97,529.18) scale(1,1.034)" font-size="26.02" font-weight="bold" stroke="#000" stroke-width="0.3" font-family="'Liberation Sans', sans-serif">570</text>
<text transform="translate(89.16,563.68) scale(1,1.038)" font-size="25.91" font-weight="bold" stroke="#000" stroke-width="0.3" font-family="'Liberation Sans', sans-serif">465</text>
<text transform="translate(141.46,588.18) scale(1,1.048)" font-size="26.21" font-weight="bold" stroke="#000" stroke-width="0.3" font-family="'Liberation Sans', sans-serif">830</text>
<text transform="translate(191.72,593.49) scale(1,1.096)" font-size="23.76" font-weight="bold" stroke="#000" stroke-width="0.3" font-family="'Liberation Sans', sans-serif">1017</text>
<text transform="translate(236.93,564.68) scale(1,1.019)" font-size="26.95" font-weight="bold" stroke="#000" stroke-width="0.3" font-family="'Liberation Sans', sans-serif">1105</text>
<text transform="translate(323.29,576.55) scale(1,1.054)" font-size="26.02" font-weight="bold" stroke="#000" stroke-width="0.3" font-family="'Liberation Sans', sans-serif">1224</text>
<text transform="translate(312.29,530.09) scale(1,1.017)" font-size="26.02" font-weight="bold" stroke="#000" stroke-width="0.3" font-family="'Liberation Sans', sans-serif">1382</text>
<text transform="translate(412.45,545.58) scale(1,1.022)" font-size="26.73" font-weight="bold" stroke="#000" stroke-width="0.3" font-family="'Liberation Sans', sans-serif">1560</text>
<text transform="translate(464.26,490.68) scale(1,1.033)" font-size="26.45" font-weight="bold" stroke="#000" stroke-width="0.3" font-family="'Liberation Sans', sans-serif">1670</text>
<text transform="translate(593.01,527.07) scale(1,1.03)" font-size="26.93" font-weight="bold" stroke="#000" stroke-width="0.3" font-family="'Liberation Sans', sans-serif">2860</text>
<text transform="translate(671.71,560.48) scale(1,1.016)" font-size="26.88" font-weight="bold" stroke="#000" stroke-width="0.3" font-family="'Liberation Sans', sans-serif">2872</text>
<text transform="translate(729.49,533.57) scale(1,1.057)" font-size="26.39" font-weight="bold" stroke="#000" stroke-width="0.3" font-family="'Liberation Sans', sans-serif">3065</text>
<text transform="translate(833.58,519.37) scale(1,1.053)" font-size="26.76" font-weight="bold" stroke="#000" stroke-width="0.3" font-family="'Liberation Sans', sans-serif">3400</text>
<line x1="95.5" y1="463.3" x2="100.7" y2="526.8" stroke="#000" stroke-width="1.3"/>
<polygon points="101.9,541.8 97.0,527.2 104.4,526.5" fill="#000"/>
<line x1="124" y1="472.3" x2="134.8" y2="487.3" stroke="#000" stroke-width="1.3"/>
<polygon points="143.5,499.5 131.8,489.5 137.8,485.2" fill="#000"/>
<line x1="186" y1="507.5" x2="174.4" y2="545.7" stroke="#000" stroke-width="1.3"/>
<polygon points="170.0,560.0 170.8,544.6 177.9,546.7" fill="#000"/>
<line x1="240" y1="500" x2="220.6" y2="548.6" stroke="#000" stroke-width="1.3"/>
<polygon points="215.0,562.5 217.1,547.2 224.0,549.9" fill="#000"/>
<line x1="256.8" y1="508.7" x2="256.8" y2="529.4" stroke="#000" stroke-width="1.3"/>
<polygon points="256.8,544.4 253.1,529.4 260.5,529.4" fill="#000"/>
<line x1="293.5" y1="492.5" x2="307.4" y2="547.9" stroke="#000" stroke-width="1.3"/>
<polygon points="311.0,562.5 303.8,548.8 311.0,547.1" fill="#000"/>
<line x1="312.5" y1="463.2" x2="323.8" y2="487.9" stroke="#000" stroke-width="1.3"/>
<polygon points="330.1,501.5 320.5,489.4 327.2,486.3" fill="#000"/>
<line x1="380.7" y1="490.2" x2="407.9" y2="505.8" stroke="#000" stroke-width="1.3"/>
<polygon points="420.9,513.3 406.1,509.0 409.7,502.6" fill="#000"/>
<line x1="391.9" y1="460.7" x2="440.7" y2="472.4" stroke="#000" stroke-width="1.3"/>
<polygon points="455.3,475.9 439.9,476.0 441.6,468.8" fill="#000"/>
<line x1="692.5" y1="461" x2="651.3" y2="491.6" stroke="#000" stroke-width="1.3"/>
<polygon points="639.2,500.5 649.0,488.6 653.5,494.5" fill="#000"/>
<line x1="712" y1="460" x2="699.6" y2="518.3" stroke="#000" stroke-width="1.3"/>
<polygon points="696.5,533.0 696.0,517.6 703.2,519.1" fill="#000"/>
<line x1="733" y1="454.5" x2="746.1" y2="483.3" stroke="#000" stroke-width="1.3"/>
<polygon points="752.3,497.0 742.7,484.9 749.5,481.8" fill="#000"/>
<line x1="831.7" y1="448.5" x2="844.4" y2="477.3" stroke="#000" stroke-width="1.3"/>
<polygon points="850.5,491.0 841.0,478.8 847.8,475.8" fill="#000"/>
</svg>
</body></html>
